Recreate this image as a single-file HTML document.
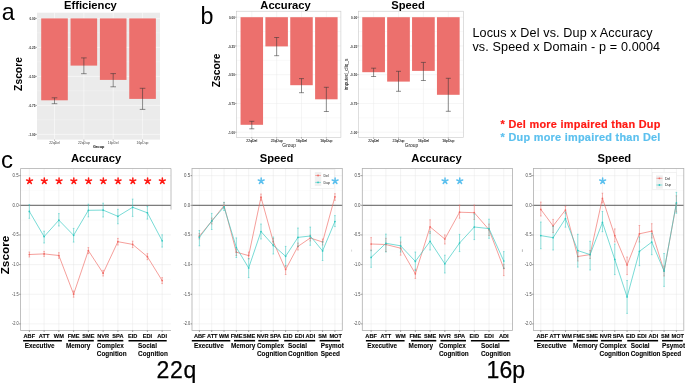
<!DOCTYPE html>
<html><head><meta charset="utf-8"><style>
html,body{margin:0;padding:0;background:#fff;width:685px;height:383px;overflow:hidden}
svg{display:block;font-family:"Liberation Sans", sans-serif;will-change:transform}
</style></head><body>
<svg width="685" height="383" viewBox="0 0 685 383" font-family='"Liberation Sans", sans-serif'>
<text x="1.7" y="19.6" font-size="23.2" font-weight="normal" text-anchor="start" fill="#000" >a</text>
<rect x="37.00" y="12.70" width="123.00" height="126.90" fill="#EBEBEB" />
<line x1="37.00" y1="18.40" x2="160.00" y2="18.40" stroke="#FFFFFF" stroke-width="0.5" />
<line x1="37.00" y1="32.90" x2="160.00" y2="32.90" stroke="#FFFFFF" stroke-width="0.25" />
<line x1="37.00" y1="47.40" x2="160.00" y2="47.40" stroke="#FFFFFF" stroke-width="0.5" />
<line x1="37.00" y1="61.90" x2="160.00" y2="61.90" stroke="#FFFFFF" stroke-width="0.25" />
<line x1="37.00" y1="76.40" x2="160.00" y2="76.40" stroke="#FFFFFF" stroke-width="0.5" />
<line x1="37.00" y1="90.90" x2="160.00" y2="90.90" stroke="#FFFFFF" stroke-width="0.25" />
<line x1="37.00" y1="105.40" x2="160.00" y2="105.40" stroke="#FFFFFF" stroke-width="0.5" />
<line x1="37.00" y1="119.90" x2="160.00" y2="119.90" stroke="#FFFFFF" stroke-width="0.25" />
<line x1="37.00" y1="134.40" x2="160.00" y2="134.40" stroke="#FFFFFF" stroke-width="0.5" />
<line x1="54.50" y1="12.70" x2="54.50" y2="139.60" stroke="#FFFFFF" stroke-width="0.5" />
<line x1="83.85" y1="12.70" x2="83.85" y2="139.60" stroke="#FFFFFF" stroke-width="0.5" />
<line x1="113.20" y1="12.70" x2="113.20" y2="139.60" stroke="#FFFFFF" stroke-width="0.5" />
<line x1="142.55" y1="12.70" x2="142.55" y2="139.60" stroke="#FFFFFF" stroke-width="0.5" />
<rect x="41.20" y="18.40" width="26.60" height="81.90" fill="#EC706D" />
<line x1="54.50" y1="97.80" x2="54.50" y2="103.70" stroke="#333" stroke-width="0.55" />
<line x1="51.70" y1="97.80" x2="57.30" y2="97.80" stroke="#333" stroke-width="0.55" />
<line x1="51.70" y1="103.70" x2="57.30" y2="103.70" stroke="#333" stroke-width="0.55" />
<rect x="70.55" y="18.40" width="26.60" height="47.20" fill="#EC706D" />
<line x1="83.85" y1="57.90" x2="83.85" y2="73.70" stroke="#333" stroke-width="0.55" />
<line x1="81.05" y1="57.90" x2="86.65" y2="57.90" stroke="#333" stroke-width="0.55" />
<line x1="81.05" y1="73.70" x2="86.65" y2="73.70" stroke="#333" stroke-width="0.55" />
<rect x="99.90" y="18.40" width="26.60" height="61.50" fill="#EC706D" />
<line x1="113.20" y1="73.60" x2="113.20" y2="86.80" stroke="#333" stroke-width="0.55" />
<line x1="110.40" y1="73.60" x2="116.00" y2="73.60" stroke="#333" stroke-width="0.55" />
<line x1="110.40" y1="86.80" x2="116.00" y2="86.80" stroke="#333" stroke-width="0.55" />
<rect x="129.25" y="18.40" width="26.60" height="80.50" fill="#EC706D" />
<line x1="142.55" y1="88.30" x2="142.55" y2="109.40" stroke="#333" stroke-width="0.55" />
<line x1="139.75" y1="88.30" x2="145.35" y2="88.30" stroke="#333" stroke-width="0.55" />
<line x1="139.75" y1="109.40" x2="145.35" y2="109.40" stroke="#333" stroke-width="0.55" />
<text x="35.4" y="20.0" font-size="4.2" font-weight="bold" text-anchor="end" fill="#333" textLength="6.0" lengthAdjust="spacingAndGlyphs">0.00</text>
<line x1="35.40" y1="18.40" x2="37.00" y2="18.40" stroke="#333" stroke-width="0.4" />
<text x="35.4" y="49.0" font-size="4.2" font-weight="bold" text-anchor="end" fill="#333" textLength="7.0" lengthAdjust="spacingAndGlyphs">-0.25</text>
<line x1="35.40" y1="47.40" x2="37.00" y2="47.40" stroke="#333" stroke-width="0.4" />
<text x="35.4" y="78.0" font-size="4.2" font-weight="bold" text-anchor="end" fill="#333" textLength="7.0" lengthAdjust="spacingAndGlyphs">-0.50</text>
<line x1="35.40" y1="76.40" x2="37.00" y2="76.40" stroke="#333" stroke-width="0.4" />
<text x="35.4" y="107.0" font-size="4.2" font-weight="bold" text-anchor="end" fill="#333" textLength="7.0" lengthAdjust="spacingAndGlyphs">-0.75</text>
<line x1="35.40" y1="105.40" x2="37.00" y2="105.40" stroke="#333" stroke-width="0.4" />
<text x="35.4" y="136.0" font-size="4.2" font-weight="bold" text-anchor="end" fill="#333" textLength="7.0" lengthAdjust="spacingAndGlyphs">-1.00</text>
<line x1="35.40" y1="134.40" x2="37.00" y2="134.40" stroke="#333" stroke-width="0.4" />
<text x="54.5" y="144.1" font-size="3.4" font-weight="normal" text-anchor="middle" fill="#444" >22qDel</text>
<line x1="54.50" y1="139.60" x2="54.50" y2="140.80" stroke="#333" stroke-width="0.4" />
<text x="83.85" y="144.1" font-size="3.4" font-weight="normal" text-anchor="middle" fill="#444" >22qDup</text>
<line x1="83.85" y1="139.60" x2="83.85" y2="140.80" stroke="#333" stroke-width="0.4" />
<text x="113.2" y="144.1" font-size="3.4" font-weight="normal" text-anchor="middle" fill="#444" >16pDel</text>
<line x1="113.20" y1="139.60" x2="113.20" y2="140.80" stroke="#333" stroke-width="0.4" />
<text x="142.55" y="144.1" font-size="3.4" font-weight="normal" text-anchor="middle" fill="#444" >16pDup</text>
<line x1="142.55" y1="139.60" x2="142.55" y2="140.80" stroke="#333" stroke-width="0.4" />
<text x="98.6" y="148.1" font-size="3.8" font-weight="bold" text-anchor="middle" fill="#000" >Group</text>
<text x="90.4" y="8.5" font-size="11.2" font-weight="bold" text-anchor="middle" fill="#000" >Efficiency</text>
<text x="0" y="0" font-size="10.3" font-weight="bold" text-anchor="middle" fill="#000" transform="translate(21.7 74) rotate(-90)">Zscore</text>
<text x="200.4" y="24.4" font-size="23.3" font-weight="normal" text-anchor="start" fill="#000" >b</text>
<rect x="236.40" y="11.20" width="104.50" height="126.20" fill="#FFFFFF" />
<line x1="236.40" y1="17.20" x2="340.90" y2="17.20" stroke="#EBEBEB" stroke-width="0.5" />
<line x1="236.40" y1="31.57" x2="340.90" y2="31.57" stroke="#EBEBEB" stroke-width="0.3" />
<line x1="236.40" y1="45.95" x2="340.90" y2="45.95" stroke="#EBEBEB" stroke-width="0.5" />
<line x1="236.40" y1="60.33" x2="340.90" y2="60.33" stroke="#EBEBEB" stroke-width="0.3" />
<line x1="236.40" y1="74.70" x2="340.90" y2="74.70" stroke="#EBEBEB" stroke-width="0.5" />
<line x1="236.40" y1="89.08" x2="340.90" y2="89.08" stroke="#EBEBEB" stroke-width="0.3" />
<line x1="236.40" y1="103.45" x2="340.90" y2="103.45" stroke="#EBEBEB" stroke-width="0.5" />
<line x1="236.40" y1="117.83" x2="340.90" y2="117.83" stroke="#EBEBEB" stroke-width="0.3" />
<line x1="236.40" y1="132.20" x2="340.90" y2="132.20" stroke="#EBEBEB" stroke-width="0.5" />
<line x1="251.80" y1="11.20" x2="251.80" y2="137.40" stroke="#EBEBEB" stroke-width="0.5" />
<line x1="276.65" y1="11.20" x2="276.65" y2="137.40" stroke="#EBEBEB" stroke-width="0.5" />
<line x1="301.50" y1="11.20" x2="301.50" y2="137.40" stroke="#EBEBEB" stroke-width="0.5" />
<line x1="326.35" y1="11.20" x2="326.35" y2="137.40" stroke="#EBEBEB" stroke-width="0.5" />
<rect x="240.55" y="17.20" width="22.50" height="107.60" fill="#EC706D" />
<line x1="251.80" y1="121.30" x2="251.80" y2="128.80" stroke="#333" stroke-width="0.55" />
<line x1="249.30" y1="121.30" x2="254.30" y2="121.30" stroke="#333" stroke-width="0.55" />
<line x1="249.30" y1="128.80" x2="254.30" y2="128.80" stroke="#333" stroke-width="0.55" />
<rect x="265.40" y="17.20" width="22.50" height="29.20" fill="#EC706D" />
<line x1="276.65" y1="37.50" x2="276.65" y2="55.70" stroke="#333" stroke-width="0.55" />
<line x1="274.15" y1="37.50" x2="279.15" y2="37.50" stroke="#333" stroke-width="0.55" />
<line x1="274.15" y1="55.70" x2="279.15" y2="55.70" stroke="#333" stroke-width="0.55" />
<rect x="290.25" y="17.20" width="22.50" height="68.00" fill="#EC706D" />
<line x1="301.50" y1="78.60" x2="301.50" y2="92.70" stroke="#333" stroke-width="0.55" />
<line x1="299.00" y1="78.60" x2="304.00" y2="78.60" stroke="#333" stroke-width="0.55" />
<line x1="299.00" y1="92.70" x2="304.00" y2="92.70" stroke="#333" stroke-width="0.55" />
<rect x="315.10" y="17.20" width="22.50" height="82.10" fill="#EC706D" />
<line x1="326.35" y1="87.30" x2="326.35" y2="111.50" stroke="#333" stroke-width="0.55" />
<line x1="323.85" y1="87.30" x2="328.85" y2="87.30" stroke="#333" stroke-width="0.55" />
<line x1="323.85" y1="111.50" x2="328.85" y2="111.50" stroke="#333" stroke-width="0.55" />
<rect x="236.40" y="11.20" width="104.50" height="126.20" fill="none" stroke="#C8C8C8" stroke-width="0.6"/>
<text x="234.9" y="18.8" font-size="4.2" font-weight="bold" text-anchor="end" fill="#333" textLength="6.0" lengthAdjust="spacingAndGlyphs">0.00</text>
<line x1="235.00" y1="17.20" x2="236.40" y2="17.20" stroke="#333" stroke-width="0.4" />
<text x="234.9" y="47.550000000000004" font-size="4.2" font-weight="bold" text-anchor="end" fill="#333" textLength="7.0" lengthAdjust="spacingAndGlyphs">-0.25</text>
<line x1="235.00" y1="45.95" x2="236.40" y2="45.95" stroke="#333" stroke-width="0.4" />
<text x="234.9" y="76.3" font-size="4.2" font-weight="bold" text-anchor="end" fill="#333" textLength="7.0" lengthAdjust="spacingAndGlyphs">-0.50</text>
<line x1="235.00" y1="74.70" x2="236.40" y2="74.70" stroke="#333" stroke-width="0.4" />
<text x="234.9" y="105.05" font-size="4.2" font-weight="bold" text-anchor="end" fill="#333" textLength="7.0" lengthAdjust="spacingAndGlyphs">-0.75</text>
<line x1="235.00" y1="103.45" x2="236.40" y2="103.45" stroke="#333" stroke-width="0.4" />
<text x="234.9" y="133.79999999999998" font-size="4.2" font-weight="bold" text-anchor="end" fill="#333" textLength="7.0" lengthAdjust="spacingAndGlyphs">-1.00</text>
<line x1="235.00" y1="132.20" x2="236.40" y2="132.20" stroke="#333" stroke-width="0.4" />
<text x="251.8" y="141.8" font-size="3.45" font-weight="normal" text-anchor="middle" fill="#111" stroke="#111" stroke-width="0.08">22qDel</text>
<line x1="251.80" y1="137.40" x2="251.80" y2="138.60" stroke="#333" stroke-width="0.4" />
<text x="276.65000000000003" y="141.8" font-size="3.45" font-weight="normal" text-anchor="middle" fill="#111" stroke="#111" stroke-width="0.08">22qDup</text>
<line x1="276.65" y1="137.40" x2="276.65" y2="138.60" stroke="#333" stroke-width="0.4" />
<text x="301.5" y="141.8" font-size="3.45" font-weight="normal" text-anchor="middle" fill="#111" stroke="#111" stroke-width="0.08">16pDel</text>
<line x1="301.50" y1="137.40" x2="301.50" y2="138.60" stroke="#333" stroke-width="0.4" />
<text x="326.35" y="141.8" font-size="3.45" font-weight="normal" text-anchor="middle" fill="#111" stroke="#111" stroke-width="0.08">16pDup</text>
<line x1="326.35" y1="137.40" x2="326.35" y2="138.60" stroke="#333" stroke-width="0.4" />
<text x="289.15" y="147.0" font-size="4.9" font-weight="normal" text-anchor="middle" fill="#111" >Group</text>
<text x="285.5" y="8.8" font-size="11.2" font-weight="bold" text-anchor="middle" fill="#000" >Accuracy</text>
<text x="0" y="0" font-size="10.3" font-weight="bold" text-anchor="middle" fill="#000" transform="translate(220 70.4) rotate(-90)">Zscore</text>
<rect x="358.60" y="11.20" width="104.70" height="126.40" fill="#FFFFFF" />
<line x1="358.60" y1="17.20" x2="463.30" y2="17.20" stroke="#EBEBEB" stroke-width="0.5" />
<line x1="358.60" y1="31.57" x2="463.30" y2="31.57" stroke="#EBEBEB" stroke-width="0.3" />
<line x1="358.60" y1="45.95" x2="463.30" y2="45.95" stroke="#EBEBEB" stroke-width="0.5" />
<line x1="358.60" y1="60.33" x2="463.30" y2="60.33" stroke="#EBEBEB" stroke-width="0.3" />
<line x1="358.60" y1="74.70" x2="463.30" y2="74.70" stroke="#EBEBEB" stroke-width="0.5" />
<line x1="358.60" y1="89.08" x2="463.30" y2="89.08" stroke="#EBEBEB" stroke-width="0.3" />
<line x1="358.60" y1="103.45" x2="463.30" y2="103.45" stroke="#EBEBEB" stroke-width="0.5" />
<line x1="358.60" y1="117.83" x2="463.30" y2="117.83" stroke="#EBEBEB" stroke-width="0.3" />
<line x1="358.60" y1="132.20" x2="463.30" y2="132.20" stroke="#EBEBEB" stroke-width="0.5" />
<line x1="373.60" y1="11.20" x2="373.60" y2="137.60" stroke="#EBEBEB" stroke-width="0.5" />
<line x1="398.50" y1="11.20" x2="398.50" y2="137.60" stroke="#EBEBEB" stroke-width="0.5" />
<line x1="423.40" y1="11.20" x2="423.40" y2="137.60" stroke="#EBEBEB" stroke-width="0.5" />
<line x1="448.30" y1="11.20" x2="448.30" y2="137.60" stroke="#EBEBEB" stroke-width="0.5" />
<rect x="362.25" y="17.20" width="22.70" height="55.00" fill="#EC706D" />
<line x1="373.60" y1="68.20" x2="373.60" y2="76.50" stroke="#333" stroke-width="0.55" />
<line x1="371.10" y1="68.20" x2="376.10" y2="68.20" stroke="#333" stroke-width="0.55" />
<line x1="371.10" y1="76.50" x2="376.10" y2="76.50" stroke="#333" stroke-width="0.55" />
<rect x="387.15" y="17.20" width="22.70" height="64.40" fill="#EC706D" />
<line x1="398.50" y1="71.30" x2="398.50" y2="91.30" stroke="#333" stroke-width="0.55" />
<line x1="396.00" y1="71.30" x2="401.00" y2="71.30" stroke="#333" stroke-width="0.55" />
<line x1="396.00" y1="91.30" x2="401.00" y2="91.30" stroke="#333" stroke-width="0.55" />
<rect x="412.05" y="17.20" width="22.70" height="53.70" fill="#EC706D" />
<line x1="423.40" y1="62.40" x2="423.40" y2="80.50" stroke="#333" stroke-width="0.55" />
<line x1="420.90" y1="62.40" x2="425.90" y2="62.40" stroke="#333" stroke-width="0.55" />
<line x1="420.90" y1="80.50" x2="425.90" y2="80.50" stroke="#333" stroke-width="0.55" />
<rect x="436.95" y="17.20" width="22.70" height="77.60" fill="#EC706D" />
<line x1="448.30" y1="78.30" x2="448.30" y2="111.30" stroke="#333" stroke-width="0.55" />
<line x1="445.80" y1="78.30" x2="450.80" y2="78.30" stroke="#333" stroke-width="0.55" />
<line x1="445.80" y1="111.30" x2="450.80" y2="111.30" stroke="#333" stroke-width="0.55" />
<rect x="358.60" y="11.20" width="104.70" height="126.40" fill="none" stroke="#C8C8C8" stroke-width="0.6"/>
<text x="357.1" y="18.8" font-size="4.2" font-weight="bold" text-anchor="end" fill="#333" textLength="6.0" lengthAdjust="spacingAndGlyphs">0.00</text>
<line x1="357.20" y1="17.20" x2="358.60" y2="17.20" stroke="#333" stroke-width="0.4" />
<text x="357.1" y="47.550000000000004" font-size="4.2" font-weight="bold" text-anchor="end" fill="#333" textLength="7.0" lengthAdjust="spacingAndGlyphs">-0.25</text>
<line x1="357.20" y1="45.95" x2="358.60" y2="45.95" stroke="#333" stroke-width="0.4" />
<text x="357.1" y="76.3" font-size="4.2" font-weight="bold" text-anchor="end" fill="#333" textLength="7.0" lengthAdjust="spacingAndGlyphs">-0.50</text>
<line x1="357.20" y1="74.70" x2="358.60" y2="74.70" stroke="#333" stroke-width="0.4" />
<text x="357.1" y="105.05" font-size="4.2" font-weight="bold" text-anchor="end" fill="#333" textLength="7.0" lengthAdjust="spacingAndGlyphs">-0.75</text>
<line x1="357.20" y1="103.45" x2="358.60" y2="103.45" stroke="#333" stroke-width="0.4" />
<text x="357.1" y="133.79999999999998" font-size="4.2" font-weight="bold" text-anchor="end" fill="#333" textLength="7.0" lengthAdjust="spacingAndGlyphs">-1.00</text>
<line x1="357.20" y1="132.20" x2="358.60" y2="132.20" stroke="#333" stroke-width="0.4" />
<text x="373.6" y="141.8" font-size="3.45" font-weight="normal" text-anchor="middle" fill="#111" stroke="#111" stroke-width="0.08">22qDel</text>
<line x1="373.60" y1="137.60" x2="373.60" y2="138.80" stroke="#333" stroke-width="0.4" />
<text x="398.5" y="141.8" font-size="3.45" font-weight="normal" text-anchor="middle" fill="#111" stroke="#111" stroke-width="0.08">22qDup</text>
<line x1="398.50" y1="137.60" x2="398.50" y2="138.80" stroke="#333" stroke-width="0.4" />
<text x="423.40000000000003" y="141.8" font-size="3.45" font-weight="normal" text-anchor="middle" fill="#111" stroke="#111" stroke-width="0.08">16pDel</text>
<line x1="423.40" y1="137.60" x2="423.40" y2="138.80" stroke="#333" stroke-width="0.4" />
<text x="448.3" y="141.8" font-size="3.45" font-weight="normal" text-anchor="middle" fill="#111" stroke="#111" stroke-width="0.08">16pDup</text>
<line x1="448.30" y1="137.60" x2="448.30" y2="138.80" stroke="#333" stroke-width="0.4" />
<text x="411.45000000000005" y="147.0" font-size="4.9" font-weight="normal" text-anchor="middle" fill="#111" >Group</text>
<text x="408.0" y="8.8" font-size="11.2" font-weight="bold" text-anchor="middle" fill="#000" >Speed</text>
<text x="0" y="0" font-size="4.75" font-weight="normal" text-anchor="middle" fill="#111" transform="translate(348.1 74.5) rotate(-90)">imputed_cliq_s</text>
<text x="472.4" y="36.9" font-size="12.6" font-weight="normal" text-anchor="start" fill="#000" letter-spacing="0.13">Locus x Del vs. Dup x Accuracy</text>
<text x="472.4" y="51.3" font-size="12.6" font-weight="normal" text-anchor="start" fill="#000" letter-spacing="0.13">vs. Speed x Domain - p = 0.0004</text>
<text x="500.6" y="127.9" font-size="10.9" font-weight="bold" text-anchor="start" fill="#FF1A14" letter-spacing="0.27" stroke="#FF1A14" stroke-width="0.2">* Del more impaired than Dup</text>
<text x="500.6" y="141.4" font-size="10.9" font-weight="bold" text-anchor="start" fill="#5CC0EE" letter-spacing="0.27" stroke="#5CC0EE" stroke-width="0.2">* Dup more impaired than Del</text>
<text x="1.0" y="167.6" font-size="24" font-weight="normal" text-anchor="start" fill="#000" >c</text>
<rect x="20.50" y="168.50" width="150.50" height="162.00" fill="#FFFFFF" />
<line x1="20.50" y1="190.48" x2="171.00" y2="190.48" stroke="#F0F0F0" stroke-width="0.3" />
<line x1="20.50" y1="220.12" x2="171.00" y2="220.12" stroke="#F0F0F0" stroke-width="0.3" />
<line x1="20.50" y1="249.78" x2="171.00" y2="249.78" stroke="#F0F0F0" stroke-width="0.3" />
<line x1="20.50" y1="279.43" x2="171.00" y2="279.43" stroke="#F0F0F0" stroke-width="0.3" />
<line x1="20.50" y1="309.07" x2="171.00" y2="309.07" stroke="#F0F0F0" stroke-width="0.3" />
<line x1="20.50" y1="175.65" x2="171.00" y2="175.65" stroke="#E4E4E4" stroke-width="0.45" />
<line x1="20.50" y1="205.30" x2="171.00" y2="205.30" stroke="#E4E4E4" stroke-width="0.45" />
<line x1="20.50" y1="234.95" x2="171.00" y2="234.95" stroke="#E4E4E4" stroke-width="0.45" />
<line x1="20.50" y1="264.60" x2="171.00" y2="264.60" stroke="#E4E4E4" stroke-width="0.45" />
<line x1="20.50" y1="294.25" x2="171.00" y2="294.25" stroke="#E4E4E4" stroke-width="0.45" />
<line x1="20.50" y1="323.90" x2="171.00" y2="323.90" stroke="#E4E4E4" stroke-width="0.45" />
<line x1="29.35" y1="168.50" x2="29.35" y2="330.50" stroke="#E4E4E4" stroke-width="0.45" />
<line x1="44.11" y1="168.50" x2="44.11" y2="330.50" stroke="#E4E4E4" stroke-width="0.45" />
<line x1="58.86" y1="168.50" x2="58.86" y2="330.50" stroke="#E4E4E4" stroke-width="0.45" />
<line x1="73.62" y1="168.50" x2="73.62" y2="330.50" stroke="#E4E4E4" stroke-width="0.45" />
<line x1="88.37" y1="168.50" x2="88.37" y2="330.50" stroke="#E4E4E4" stroke-width="0.45" />
<line x1="103.13" y1="168.50" x2="103.13" y2="330.50" stroke="#E4E4E4" stroke-width="0.45" />
<line x1="117.88" y1="168.50" x2="117.88" y2="330.50" stroke="#E4E4E4" stroke-width="0.45" />
<line x1="132.64" y1="168.50" x2="132.64" y2="330.50" stroke="#E4E4E4" stroke-width="0.45" />
<line x1="147.39" y1="168.50" x2="147.39" y2="330.50" stroke="#E4E4E4" stroke-width="0.45" />
<line x1="162.15" y1="168.50" x2="162.15" y2="330.50" stroke="#E4E4E4" stroke-width="0.45" />
<line x1="20.50" y1="205.30" x2="171.00" y2="205.30" stroke="#1E1E1E" stroke-width="0.7" />
<polyline points="29.35,254.50 44.11,253.90 58.86,255.50 73.62,294.20 88.37,250.60 103.13,273.20 117.88,241.70 132.64,244.40 147.39,256.70 162.15,280.60" fill="none" stroke="#F06A64" stroke-width="0.65"/>
<line x1="29.35" y1="252.00" x2="29.35" y2="257.00" stroke="#F06A64" stroke-width="0.5" />
<line x1="28.55" y1="252.00" x2="30.15" y2="252.00" stroke="#F06A64" stroke-width="0.5" />
<line x1="28.55" y1="257.00" x2="30.15" y2="257.00" stroke="#F06A64" stroke-width="0.5" />
<circle cx="29.35" cy="254.50" r="0.85" fill="#F06A64"/>
<line x1="44.11" y1="251.40" x2="44.11" y2="256.40" stroke="#F06A64" stroke-width="0.5" />
<line x1="43.31" y1="251.40" x2="44.91" y2="251.40" stroke="#F06A64" stroke-width="0.5" />
<line x1="43.31" y1="256.40" x2="44.91" y2="256.40" stroke="#F06A64" stroke-width="0.5" />
<circle cx="44.11" cy="253.90" r="0.85" fill="#F06A64"/>
<line x1="58.86" y1="252.70" x2="58.86" y2="258.30" stroke="#F06A64" stroke-width="0.5" />
<line x1="58.06" y1="252.70" x2="59.66" y2="252.70" stroke="#F06A64" stroke-width="0.5" />
<line x1="58.06" y1="258.30" x2="59.66" y2="258.30" stroke="#F06A64" stroke-width="0.5" />
<circle cx="58.86" cy="255.50" r="0.85" fill="#F06A64"/>
<line x1="73.62" y1="291.00" x2="73.62" y2="297.20" stroke="#F06A64" stroke-width="0.5" />
<line x1="72.82" y1="291.00" x2="74.42" y2="291.00" stroke="#F06A64" stroke-width="0.5" />
<line x1="72.82" y1="297.20" x2="74.42" y2="297.20" stroke="#F06A64" stroke-width="0.5" />
<circle cx="73.62" cy="294.20" r="0.85" fill="#F06A64"/>
<line x1="88.37" y1="247.60" x2="88.37" y2="253.60" stroke="#F06A64" stroke-width="0.5" />
<line x1="87.57" y1="247.60" x2="89.17" y2="247.60" stroke="#F06A64" stroke-width="0.5" />
<line x1="87.57" y1="253.60" x2="89.17" y2="253.60" stroke="#F06A64" stroke-width="0.5" />
<circle cx="88.37" cy="250.60" r="0.85" fill="#F06A64"/>
<line x1="103.13" y1="270.40" x2="103.13" y2="276.00" stroke="#F06A64" stroke-width="0.5" />
<line x1="102.33" y1="270.40" x2="103.93" y2="270.40" stroke="#F06A64" stroke-width="0.5" />
<line x1="102.33" y1="276.00" x2="103.93" y2="276.00" stroke="#F06A64" stroke-width="0.5" />
<circle cx="103.13" cy="273.20" r="0.85" fill="#F06A64"/>
<line x1="117.88" y1="238.40" x2="117.88" y2="245.00" stroke="#F06A64" stroke-width="0.5" />
<line x1="117.08" y1="238.40" x2="118.68" y2="238.40" stroke="#F06A64" stroke-width="0.5" />
<line x1="117.08" y1="245.00" x2="118.68" y2="245.00" stroke="#F06A64" stroke-width="0.5" />
<circle cx="117.88" cy="241.70" r="0.85" fill="#F06A64"/>
<line x1="132.64" y1="241.20" x2="132.64" y2="247.60" stroke="#F06A64" stroke-width="0.5" />
<line x1="131.84" y1="241.20" x2="133.44" y2="241.20" stroke="#F06A64" stroke-width="0.5" />
<line x1="131.84" y1="247.60" x2="133.44" y2="247.60" stroke="#F06A64" stroke-width="0.5" />
<circle cx="132.64" cy="244.40" r="0.85" fill="#F06A64"/>
<line x1="147.39" y1="253.70" x2="147.39" y2="259.70" stroke="#F06A64" stroke-width="0.5" />
<line x1="146.59" y1="253.70" x2="148.19" y2="253.70" stroke="#F06A64" stroke-width="0.5" />
<line x1="146.59" y1="259.70" x2="148.19" y2="259.70" stroke="#F06A64" stroke-width="0.5" />
<circle cx="147.39" cy="256.70" r="0.85" fill="#F06A64"/>
<line x1="162.15" y1="277.60" x2="162.15" y2="283.60" stroke="#F06A64" stroke-width="0.5" />
<line x1="161.35" y1="277.60" x2="162.95" y2="277.60" stroke="#F06A64" stroke-width="0.5" />
<line x1="161.35" y1="283.60" x2="162.95" y2="283.60" stroke="#F06A64" stroke-width="0.5" />
<circle cx="162.15" cy="280.60" r="0.85" fill="#F06A64"/>
<polyline points="29.35,211.40 44.11,236.60 58.86,220.20 73.62,235.30 88.37,210.30 103.13,210.10 117.88,216.30 132.64,207.30 147.39,212.80 162.15,240.80" fill="none" stroke="#30C8C0" stroke-width="0.65"/>
<line x1="29.35" y1="204.60" x2="29.35" y2="218.30" stroke="#30C8C0" stroke-width="0.5" />
<line x1="28.55" y1="204.60" x2="30.15" y2="204.60" stroke="#30C8C0" stroke-width="0.5" />
<line x1="28.55" y1="218.30" x2="30.15" y2="218.30" stroke="#30C8C0" stroke-width="0.5" />
<circle cx="29.35" cy="211.40" r="0.85" fill="#30C8C0"/>
<line x1="44.11" y1="231.20" x2="44.11" y2="243.00" stroke="#30C8C0" stroke-width="0.5" />
<line x1="43.31" y1="231.20" x2="44.91" y2="231.20" stroke="#30C8C0" stroke-width="0.5" />
<line x1="43.31" y1="243.00" x2="44.91" y2="243.00" stroke="#30C8C0" stroke-width="0.5" />
<circle cx="44.11" cy="236.60" r="0.85" fill="#30C8C0"/>
<line x1="58.86" y1="213.60" x2="58.86" y2="226.00" stroke="#30C8C0" stroke-width="0.5" />
<line x1="58.06" y1="213.60" x2="59.66" y2="213.60" stroke="#30C8C0" stroke-width="0.5" />
<line x1="58.06" y1="226.00" x2="59.66" y2="226.00" stroke="#30C8C0" stroke-width="0.5" />
<circle cx="58.86" cy="220.20" r="0.85" fill="#30C8C0"/>
<line x1="73.62" y1="228.40" x2="73.62" y2="242.10" stroke="#30C8C0" stroke-width="0.5" />
<line x1="72.82" y1="228.40" x2="74.42" y2="228.40" stroke="#30C8C0" stroke-width="0.5" />
<line x1="72.82" y1="242.10" x2="74.42" y2="242.10" stroke="#30C8C0" stroke-width="0.5" />
<circle cx="73.62" cy="235.30" r="0.85" fill="#30C8C0"/>
<line x1="88.37" y1="204.20" x2="88.37" y2="216.90" stroke="#30C8C0" stroke-width="0.5" />
<line x1="87.57" y1="204.20" x2="89.17" y2="204.20" stroke="#30C8C0" stroke-width="0.5" />
<line x1="87.57" y1="216.90" x2="89.17" y2="216.90" stroke="#30C8C0" stroke-width="0.5" />
<circle cx="88.37" cy="210.30" r="0.85" fill="#30C8C0"/>
<line x1="103.13" y1="203.20" x2="103.13" y2="217.00" stroke="#30C8C0" stroke-width="0.5" />
<line x1="102.33" y1="203.20" x2="103.93" y2="203.20" stroke="#30C8C0" stroke-width="0.5" />
<line x1="102.33" y1="217.00" x2="103.93" y2="217.00" stroke="#30C8C0" stroke-width="0.5" />
<circle cx="103.13" cy="210.10" r="0.85" fill="#30C8C0"/>
<line x1="117.88" y1="209.30" x2="117.88" y2="223.80" stroke="#30C8C0" stroke-width="0.5" />
<line x1="117.08" y1="209.30" x2="118.68" y2="209.30" stroke="#30C8C0" stroke-width="0.5" />
<line x1="117.08" y1="223.80" x2="118.68" y2="223.80" stroke="#30C8C0" stroke-width="0.5" />
<circle cx="117.88" cy="216.30" r="0.85" fill="#30C8C0"/>
<line x1="132.64" y1="199.10" x2="132.64" y2="216.40" stroke="#30C8C0" stroke-width="0.5" />
<line x1="131.84" y1="199.10" x2="133.44" y2="199.10" stroke="#30C8C0" stroke-width="0.5" />
<line x1="131.84" y1="216.40" x2="133.44" y2="216.40" stroke="#30C8C0" stroke-width="0.5" />
<circle cx="132.64" cy="207.30" r="0.85" fill="#30C8C0"/>
<line x1="147.39" y1="206.50" x2="147.39" y2="219.10" stroke="#30C8C0" stroke-width="0.5" />
<line x1="146.59" y1="206.50" x2="148.19" y2="206.50" stroke="#30C8C0" stroke-width="0.5" />
<line x1="146.59" y1="219.10" x2="148.19" y2="219.10" stroke="#30C8C0" stroke-width="0.5" />
<circle cx="147.39" cy="212.80" r="0.85" fill="#30C8C0"/>
<line x1="162.15" y1="234.80" x2="162.15" y2="247.10" stroke="#30C8C0" stroke-width="0.5" />
<line x1="161.35" y1="234.80" x2="162.95" y2="234.80" stroke="#30C8C0" stroke-width="0.5" />
<line x1="161.35" y1="247.10" x2="162.95" y2="247.10" stroke="#30C8C0" stroke-width="0.5" />
<circle cx="162.15" cy="240.80" r="0.85" fill="#30C8C0"/>
<path d="M171.00 209.60V168.50H20.50V330.50H171.00" fill="none" stroke="#B0B0B0" stroke-width="0.8"/>
<text x="18.7" y="177.05" font-size="4.6" font-weight="normal" text-anchor="end" fill="#4A4A4A" textLength="6.1" lengthAdjust="spacingAndGlyphs">0.5</text>
<line x1="19.00" y1="175.65" x2="20.50" y2="175.65" stroke="#444" stroke-width="0.5" />
<text x="18.7" y="206.70000000000002" font-size="4.6" font-weight="normal" text-anchor="end" fill="#4A4A4A" textLength="6.1" lengthAdjust="spacingAndGlyphs">0.0</text>
<line x1="19.00" y1="205.30" x2="20.50" y2="205.30" stroke="#444" stroke-width="0.5" />
<text x="18.7" y="236.35000000000002" font-size="4.6" font-weight="normal" text-anchor="end" fill="#4A4A4A" textLength="6.8" lengthAdjust="spacingAndGlyphs">-0.5</text>
<line x1="19.00" y1="234.95" x2="20.50" y2="234.95" stroke="#444" stroke-width="0.5" />
<text x="18.7" y="266.0" font-size="4.6" font-weight="normal" text-anchor="end" fill="#4A4A4A" textLength="6.8" lengthAdjust="spacingAndGlyphs">-1.0</text>
<line x1="19.00" y1="264.60" x2="20.50" y2="264.60" stroke="#444" stroke-width="0.5" />
<text x="18.7" y="295.65" font-size="4.6" font-weight="normal" text-anchor="end" fill="#4A4A4A" textLength="6.8" lengthAdjust="spacingAndGlyphs">-1.5</text>
<line x1="19.00" y1="294.25" x2="20.50" y2="294.25" stroke="#444" stroke-width="0.5" />
<text x="18.7" y="325.29999999999995" font-size="4.6" font-weight="normal" text-anchor="end" fill="#4A4A4A" textLength="6.8" lengthAdjust="spacingAndGlyphs">-2.0</text>
<line x1="19.00" y1="323.90" x2="20.50" y2="323.90" stroke="#444" stroke-width="0.5" />
<line x1="29.35" y1="330.50" x2="29.35" y2="332.00" stroke="#444" stroke-width="0.5" />
<line x1="44.11" y1="330.50" x2="44.11" y2="332.00" stroke="#444" stroke-width="0.5" />
<line x1="58.86" y1="330.50" x2="58.86" y2="332.00" stroke="#444" stroke-width="0.5" />
<line x1="73.62" y1="330.50" x2="73.62" y2="332.00" stroke="#444" stroke-width="0.5" />
<line x1="88.37" y1="330.50" x2="88.37" y2="332.00" stroke="#444" stroke-width="0.5" />
<line x1="103.13" y1="330.50" x2="103.13" y2="332.00" stroke="#444" stroke-width="0.5" />
<line x1="117.88" y1="330.50" x2="117.88" y2="332.00" stroke="#444" stroke-width="0.5" />
<line x1="132.64" y1="330.50" x2="132.64" y2="332.00" stroke="#444" stroke-width="0.5" />
<line x1="147.39" y1="330.50" x2="147.39" y2="332.00" stroke="#444" stroke-width="0.5" />
<line x1="162.15" y1="330.50" x2="162.15" y2="332.00" stroke="#444" stroke-width="0.5" />
<path d="M29.55 181.00L29.55 177.90M29.55 181.00L32.50 180.04M29.55 181.00L31.38 183.51M29.55 181.00L27.73 183.51M29.55 181.00L26.60 180.04" stroke="#FF1A14" stroke-width="1.5" stroke-linecap="round" fill="none"/>
<path d="M44.31 181.00L44.31 177.90M44.31 181.00L47.26 180.04M44.31 181.00L46.13 183.51M44.31 181.00L42.49 183.51M44.31 181.00L41.36 180.04" stroke="#FF1A14" stroke-width="1.5" stroke-linecap="round" fill="none"/>
<path d="M59.06 181.00L59.06 177.90M59.06 181.00L62.01 180.04M59.06 181.00L60.88 183.51M59.06 181.00L57.24 183.51M59.06 181.00L56.11 180.04" stroke="#FF1A14" stroke-width="1.5" stroke-linecap="round" fill="none"/>
<path d="M73.82 181.00L73.82 177.90M73.82 181.00L76.77 180.04M73.82 181.00L75.64 183.51M73.82 181.00L72.00 183.51M73.82 181.00L70.87 180.04" stroke="#FF1A14" stroke-width="1.5" stroke-linecap="round" fill="none"/>
<path d="M88.57 181.00L88.57 177.90M88.57 181.00L91.52 180.04M88.57 181.00L90.39 183.51M88.57 181.00L86.75 183.51M88.57 181.00L85.62 180.04" stroke="#FF1A14" stroke-width="1.5" stroke-linecap="round" fill="none"/>
<path d="M103.33 181.00L103.33 177.90M103.33 181.00L106.28 180.04M103.33 181.00L105.15 183.51M103.33 181.00L101.51 183.51M103.33 181.00L100.38 180.04" stroke="#FF1A14" stroke-width="1.5" stroke-linecap="round" fill="none"/>
<path d="M118.08 181.00L118.08 177.90M118.08 181.00L121.03 180.04M118.08 181.00L119.90 183.51M118.08 181.00L116.26 183.51M118.08 181.00L115.13 180.04" stroke="#FF1A14" stroke-width="1.5" stroke-linecap="round" fill="none"/>
<path d="M132.84 181.00L132.84 177.90M132.84 181.00L135.79 180.04M132.84 181.00L134.66 183.51M132.84 181.00L131.02 183.51M132.84 181.00L129.89 180.04" stroke="#FF1A14" stroke-width="1.5" stroke-linecap="round" fill="none"/>
<path d="M147.59 181.00L147.59 177.90M147.59 181.00L150.54 180.04M147.59 181.00L149.41 183.51M147.59 181.00L145.77 183.51M147.59 181.00L144.64 180.04" stroke="#FF1A14" stroke-width="1.5" stroke-linecap="round" fill="none"/>
<path d="M162.35 181.00L162.35 177.90M162.35 181.00L165.30 180.04M162.35 181.00L164.17 183.51M162.35 181.00L160.52 183.51M162.35 181.00L159.40 180.04" stroke="#FF1A14" stroke-width="1.5" stroke-linecap="round" fill="none"/>
<text x="96.1" y="162.0" font-size="11.2" font-weight="bold" text-anchor="middle" fill="#000" >Accuracy</text>
<rect x="192.00" y="168.50" width="150.30" height="162.00" fill="#FFFFFF" />
<line x1="192.00" y1="190.48" x2="342.30" y2="190.48" stroke="#F0F0F0" stroke-width="0.3" />
<line x1="192.00" y1="220.12" x2="342.30" y2="220.12" stroke="#F0F0F0" stroke-width="0.3" />
<line x1="192.00" y1="249.78" x2="342.30" y2="249.78" stroke="#F0F0F0" stroke-width="0.3" />
<line x1="192.00" y1="279.43" x2="342.30" y2="279.43" stroke="#F0F0F0" stroke-width="0.3" />
<line x1="192.00" y1="309.07" x2="342.30" y2="309.07" stroke="#F0F0F0" stroke-width="0.3" />
<line x1="192.00" y1="175.65" x2="342.30" y2="175.65" stroke="#E4E4E4" stroke-width="0.45" />
<line x1="192.00" y1="205.30" x2="342.30" y2="205.30" stroke="#E4E4E4" stroke-width="0.45" />
<line x1="192.00" y1="234.95" x2="342.30" y2="234.95" stroke="#E4E4E4" stroke-width="0.45" />
<line x1="192.00" y1="264.60" x2="342.30" y2="264.60" stroke="#E4E4E4" stroke-width="0.45" />
<line x1="192.00" y1="294.25" x2="342.30" y2="294.25" stroke="#E4E4E4" stroke-width="0.45" />
<line x1="192.00" y1="323.90" x2="342.30" y2="323.90" stroke="#E4E4E4" stroke-width="0.45" />
<line x1="199.39" y1="168.50" x2="199.39" y2="330.50" stroke="#E4E4E4" stroke-width="0.45" />
<line x1="211.71" y1="168.50" x2="211.71" y2="330.50" stroke="#E4E4E4" stroke-width="0.45" />
<line x1="224.03" y1="168.50" x2="224.03" y2="330.50" stroke="#E4E4E4" stroke-width="0.45" />
<line x1="236.35" y1="168.50" x2="236.35" y2="330.50" stroke="#E4E4E4" stroke-width="0.45" />
<line x1="248.67" y1="168.50" x2="248.67" y2="330.50" stroke="#E4E4E4" stroke-width="0.45" />
<line x1="260.99" y1="168.50" x2="260.99" y2="330.50" stroke="#E4E4E4" stroke-width="0.45" />
<line x1="273.31" y1="168.50" x2="273.31" y2="330.50" stroke="#E4E4E4" stroke-width="0.45" />
<line x1="285.63" y1="168.50" x2="285.63" y2="330.50" stroke="#E4E4E4" stroke-width="0.45" />
<line x1="297.95" y1="168.50" x2="297.95" y2="330.50" stroke="#E4E4E4" stroke-width="0.45" />
<line x1="310.27" y1="168.50" x2="310.27" y2="330.50" stroke="#E4E4E4" stroke-width="0.45" />
<line x1="322.59" y1="168.50" x2="322.59" y2="330.50" stroke="#E4E4E4" stroke-width="0.45" />
<line x1="334.91" y1="168.50" x2="334.91" y2="330.50" stroke="#E4E4E4" stroke-width="0.45" />
<rect x="310.80" y="169.40" width="23.40" height="19.10" fill="#FFFFFF" stroke="#E6E6E6" stroke-width="0.5"/>
<rect x="314.80" y="172.10" width="6.50" height="13.90" fill="#F0F0F0" />
<line x1="315.20" y1="175.50" x2="320.90" y2="175.50" stroke="#F06A64" stroke-width="0.55" />
<circle cx="318.05" cy="175.50" r="0.9" fill="#F06A64"/>
<text x="323.6" y="176.75" font-size="3.5" font-weight="normal" text-anchor="start" fill="#1A1A1A" >Del</text>
<line x1="315.20" y1="182.40" x2="320.90" y2="182.40" stroke="#30C8C0" stroke-width="0.55" />
<circle cx="318.05" cy="182.40" r="0.9" fill="#30C8C0"/>
<text x="323.6" y="183.65" font-size="3.5" font-weight="normal" text-anchor="start" fill="#1A1A1A" >Dup</text>
<line x1="192.00" y1="205.30" x2="342.30" y2="205.30" stroke="#1E1E1E" stroke-width="0.7" />
<polyline points="199.39,236.20 211.71,221.10 224.03,205.50 236.35,252.20 248.67,255.60 260.99,197.20 273.31,241.70 285.63,269.50 297.95,246.40 310.27,238.00 322.59,242.00 334.91,196.80" fill="none" stroke="#F06A64" stroke-width="0.65"/>
<line x1="199.39" y1="233.50" x2="199.39" y2="239.00" stroke="#F06A64" stroke-width="0.5" />
<line x1="198.59" y1="233.50" x2="200.19" y2="233.50" stroke="#F06A64" stroke-width="0.5" />
<line x1="198.59" y1="239.00" x2="200.19" y2="239.00" stroke="#F06A64" stroke-width="0.5" />
<circle cx="199.39" cy="236.20" r="0.85" fill="#F06A64"/>
<line x1="211.71" y1="218.00" x2="211.71" y2="224.00" stroke="#F06A64" stroke-width="0.5" />
<line x1="210.91" y1="218.00" x2="212.51" y2="218.00" stroke="#F06A64" stroke-width="0.5" />
<line x1="210.91" y1="224.00" x2="212.51" y2="224.00" stroke="#F06A64" stroke-width="0.5" />
<circle cx="211.71" cy="221.10" r="0.85" fill="#F06A64"/>
<line x1="224.03" y1="202.50" x2="224.03" y2="208.50" stroke="#F06A64" stroke-width="0.5" />
<line x1="223.23" y1="202.50" x2="224.83" y2="202.50" stroke="#F06A64" stroke-width="0.5" />
<line x1="223.23" y1="208.50" x2="224.83" y2="208.50" stroke="#F06A64" stroke-width="0.5" />
<circle cx="224.03" cy="205.50" r="0.85" fill="#F06A64"/>
<line x1="236.35" y1="249.00" x2="236.35" y2="255.50" stroke="#F06A64" stroke-width="0.5" />
<line x1="235.55" y1="249.00" x2="237.15" y2="249.00" stroke="#F06A64" stroke-width="0.5" />
<line x1="235.55" y1="255.50" x2="237.15" y2="255.50" stroke="#F06A64" stroke-width="0.5" />
<circle cx="236.35" cy="252.20" r="0.85" fill="#F06A64"/>
<line x1="248.67" y1="252.00" x2="248.67" y2="259.00" stroke="#F06A64" stroke-width="0.5" />
<line x1="247.87" y1="252.00" x2="249.47" y2="252.00" stroke="#F06A64" stroke-width="0.5" />
<line x1="247.87" y1="259.00" x2="249.47" y2="259.00" stroke="#F06A64" stroke-width="0.5" />
<circle cx="248.67" cy="255.60" r="0.85" fill="#F06A64"/>
<line x1="260.99" y1="194.00" x2="260.99" y2="200.30" stroke="#F06A64" stroke-width="0.5" />
<line x1="260.19" y1="194.00" x2="261.79" y2="194.00" stroke="#F06A64" stroke-width="0.5" />
<line x1="260.19" y1="200.30" x2="261.79" y2="200.30" stroke="#F06A64" stroke-width="0.5" />
<circle cx="260.99" cy="197.20" r="0.85" fill="#F06A64"/>
<line x1="273.31" y1="238.50" x2="273.31" y2="245.00" stroke="#F06A64" stroke-width="0.5" />
<line x1="272.51" y1="238.50" x2="274.11" y2="238.50" stroke="#F06A64" stroke-width="0.5" />
<line x1="272.51" y1="245.00" x2="274.11" y2="245.00" stroke="#F06A64" stroke-width="0.5" />
<circle cx="273.31" cy="241.70" r="0.85" fill="#F06A64"/>
<line x1="285.63" y1="265.50" x2="285.63" y2="274.50" stroke="#F06A64" stroke-width="0.5" />
<line x1="284.83" y1="265.50" x2="286.43" y2="265.50" stroke="#F06A64" stroke-width="0.5" />
<line x1="284.83" y1="274.50" x2="286.43" y2="274.50" stroke="#F06A64" stroke-width="0.5" />
<circle cx="285.63" cy="269.50" r="0.85" fill="#F06A64"/>
<line x1="297.95" y1="243.00" x2="297.95" y2="250.00" stroke="#F06A64" stroke-width="0.5" />
<line x1="297.15" y1="243.00" x2="298.75" y2="243.00" stroke="#F06A64" stroke-width="0.5" />
<line x1="297.15" y1="250.00" x2="298.75" y2="250.00" stroke="#F06A64" stroke-width="0.5" />
<circle cx="297.95" cy="246.40" r="0.85" fill="#F06A64"/>
<line x1="310.27" y1="235.00" x2="310.27" y2="241.00" stroke="#F06A64" stroke-width="0.5" />
<line x1="309.47" y1="235.00" x2="311.07" y2="235.00" stroke="#F06A64" stroke-width="0.5" />
<line x1="309.47" y1="241.00" x2="311.07" y2="241.00" stroke="#F06A64" stroke-width="0.5" />
<circle cx="310.27" cy="238.00" r="0.85" fill="#F06A64"/>
<line x1="322.59" y1="239.00" x2="322.59" y2="245.00" stroke="#F06A64" stroke-width="0.5" />
<line x1="321.79" y1="239.00" x2="323.39" y2="239.00" stroke="#F06A64" stroke-width="0.5" />
<line x1="321.79" y1="245.00" x2="323.39" y2="245.00" stroke="#F06A64" stroke-width="0.5" />
<circle cx="322.59" cy="242.00" r="0.85" fill="#F06A64"/>
<line x1="334.91" y1="193.70" x2="334.91" y2="200.30" stroke="#F06A64" stroke-width="0.5" />
<line x1="334.11" y1="193.70" x2="335.71" y2="193.70" stroke="#F06A64" stroke-width="0.5" />
<line x1="334.11" y1="200.30" x2="335.71" y2="200.30" stroke="#F06A64" stroke-width="0.5" />
<circle cx="334.91" cy="196.80" r="0.85" fill="#F06A64"/>
<polyline points="199.39,237.40 211.71,221.10 224.03,206.90 236.35,247.50 248.67,268.00 260.99,231.50 273.31,245.40 285.63,256.30 297.95,237.40 310.27,236.00 322.59,250.90 334.91,221.50" fill="none" stroke="#30C8C0" stroke-width="0.65"/>
<line x1="199.39" y1="230.50" x2="199.39" y2="245.80" stroke="#30C8C0" stroke-width="0.5" />
<line x1="198.59" y1="230.50" x2="200.19" y2="230.50" stroke="#30C8C0" stroke-width="0.5" />
<line x1="198.59" y1="245.80" x2="200.19" y2="245.80" stroke="#30C8C0" stroke-width="0.5" />
<circle cx="199.39" cy="237.40" r="0.85" fill="#30C8C0"/>
<line x1="211.71" y1="213.40" x2="211.71" y2="229.50" stroke="#30C8C0" stroke-width="0.5" />
<line x1="210.91" y1="213.40" x2="212.51" y2="213.40" stroke="#30C8C0" stroke-width="0.5" />
<line x1="210.91" y1="229.50" x2="212.51" y2="229.50" stroke="#30C8C0" stroke-width="0.5" />
<circle cx="211.71" cy="221.10" r="0.85" fill="#30C8C0"/>
<line x1="224.03" y1="202.30" x2="224.03" y2="210.50" stroke="#30C8C0" stroke-width="0.5" />
<line x1="223.23" y1="202.30" x2="224.83" y2="202.30" stroke="#30C8C0" stroke-width="0.5" />
<line x1="223.23" y1="210.50" x2="224.83" y2="210.50" stroke="#30C8C0" stroke-width="0.5" />
<circle cx="224.03" cy="206.90" r="0.85" fill="#30C8C0"/>
<line x1="236.35" y1="237.90" x2="236.35" y2="257.50" stroke="#30C8C0" stroke-width="0.5" />
<line x1="235.55" y1="237.90" x2="237.15" y2="237.90" stroke="#30C8C0" stroke-width="0.5" />
<line x1="235.55" y1="257.50" x2="237.15" y2="257.50" stroke="#30C8C0" stroke-width="0.5" />
<circle cx="236.35" cy="247.50" r="0.85" fill="#30C8C0"/>
<line x1="248.67" y1="258.50" x2="248.67" y2="277.60" stroke="#30C8C0" stroke-width="0.5" />
<line x1="247.87" y1="258.50" x2="249.47" y2="258.50" stroke="#30C8C0" stroke-width="0.5" />
<line x1="247.87" y1="277.60" x2="249.47" y2="277.60" stroke="#30C8C0" stroke-width="0.5" />
<circle cx="248.67" cy="268.00" r="0.85" fill="#30C8C0"/>
<line x1="260.99" y1="224.00" x2="260.99" y2="239.00" stroke="#30C8C0" stroke-width="0.5" />
<line x1="260.19" y1="224.00" x2="261.79" y2="224.00" stroke="#30C8C0" stroke-width="0.5" />
<line x1="260.19" y1="239.00" x2="261.79" y2="239.00" stroke="#30C8C0" stroke-width="0.5" />
<circle cx="260.99" cy="231.50" r="0.85" fill="#30C8C0"/>
<line x1="273.31" y1="237.00" x2="273.31" y2="254.00" stroke="#30C8C0" stroke-width="0.5" />
<line x1="272.51" y1="237.00" x2="274.11" y2="237.00" stroke="#30C8C0" stroke-width="0.5" />
<line x1="272.51" y1="254.00" x2="274.11" y2="254.00" stroke="#30C8C0" stroke-width="0.5" />
<circle cx="273.31" cy="245.40" r="0.85" fill="#30C8C0"/>
<line x1="285.63" y1="246.40" x2="285.63" y2="266.20" stroke="#30C8C0" stroke-width="0.5" />
<line x1="284.83" y1="246.40" x2="286.43" y2="246.40" stroke="#30C8C0" stroke-width="0.5" />
<line x1="284.83" y1="266.20" x2="286.43" y2="266.20" stroke="#30C8C0" stroke-width="0.5" />
<circle cx="285.63" cy="256.30" r="0.85" fill="#30C8C0"/>
<line x1="297.95" y1="228.00" x2="297.95" y2="246.40" stroke="#30C8C0" stroke-width="0.5" />
<line x1="297.15" y1="228.00" x2="298.75" y2="228.00" stroke="#30C8C0" stroke-width="0.5" />
<line x1="297.15" y1="246.40" x2="298.75" y2="246.40" stroke="#30C8C0" stroke-width="0.5" />
<circle cx="297.95" cy="237.40" r="0.85" fill="#30C8C0"/>
<line x1="310.27" y1="227.10" x2="310.27" y2="245.30" stroke="#30C8C0" stroke-width="0.5" />
<line x1="309.47" y1="227.10" x2="311.07" y2="227.10" stroke="#30C8C0" stroke-width="0.5" />
<line x1="309.47" y1="245.30" x2="311.07" y2="245.30" stroke="#30C8C0" stroke-width="0.5" />
<circle cx="310.27" cy="236.00" r="0.85" fill="#30C8C0"/>
<line x1="322.59" y1="241.50" x2="322.59" y2="260.50" stroke="#30C8C0" stroke-width="0.5" />
<line x1="321.79" y1="241.50" x2="323.39" y2="241.50" stroke="#30C8C0" stroke-width="0.5" />
<line x1="321.79" y1="260.50" x2="323.39" y2="260.50" stroke="#30C8C0" stroke-width="0.5" />
<circle cx="322.59" cy="250.90" r="0.85" fill="#30C8C0"/>
<line x1="334.91" y1="215.60" x2="334.91" y2="226.60" stroke="#30C8C0" stroke-width="0.5" />
<line x1="334.11" y1="215.60" x2="335.71" y2="215.60" stroke="#30C8C0" stroke-width="0.5" />
<line x1="334.11" y1="226.60" x2="335.71" y2="226.60" stroke="#30C8C0" stroke-width="0.5" />
<circle cx="334.91" cy="221.50" r="0.85" fill="#30C8C0"/>
<rect x="192.00" y="168.50" width="150.30" height="162.00" fill="none" stroke="#B0B0B0" stroke-width="0.8"/>
<text x="190.2" y="177.05" font-size="4.6" font-weight="normal" text-anchor="end" fill="#4A4A4A" textLength="6.1" lengthAdjust="spacingAndGlyphs">0.5</text>
<line x1="190.50" y1="175.65" x2="192.00" y2="175.65" stroke="#444" stroke-width="0.5" />
<text x="190.2" y="206.70000000000002" font-size="4.6" font-weight="normal" text-anchor="end" fill="#4A4A4A" textLength="6.1" lengthAdjust="spacingAndGlyphs">0.0</text>
<line x1="190.50" y1="205.30" x2="192.00" y2="205.30" stroke="#444" stroke-width="0.5" />
<text x="190.2" y="236.35000000000002" font-size="4.6" font-weight="normal" text-anchor="end" fill="#4A4A4A" textLength="6.8" lengthAdjust="spacingAndGlyphs">-0.5</text>
<line x1="190.50" y1="234.95" x2="192.00" y2="234.95" stroke="#444" stroke-width="0.5" />
<text x="190.2" y="266.0" font-size="4.6" font-weight="normal" text-anchor="end" fill="#4A4A4A" textLength="6.8" lengthAdjust="spacingAndGlyphs">-1.0</text>
<line x1="190.50" y1="264.60" x2="192.00" y2="264.60" stroke="#444" stroke-width="0.5" />
<text x="190.2" y="295.65" font-size="4.6" font-weight="normal" text-anchor="end" fill="#4A4A4A" textLength="6.8" lengthAdjust="spacingAndGlyphs">-1.5</text>
<line x1="190.50" y1="294.25" x2="192.00" y2="294.25" stroke="#444" stroke-width="0.5" />
<text x="190.2" y="325.29999999999995" font-size="4.6" font-weight="normal" text-anchor="end" fill="#4A4A4A" textLength="6.8" lengthAdjust="spacingAndGlyphs">-2.0</text>
<line x1="190.50" y1="323.90" x2="192.00" y2="323.90" stroke="#444" stroke-width="0.5" />
<line x1="199.39" y1="330.50" x2="199.39" y2="332.00" stroke="#444" stroke-width="0.5" />
<line x1="211.71" y1="330.50" x2="211.71" y2="332.00" stroke="#444" stroke-width="0.5" />
<line x1="224.03" y1="330.50" x2="224.03" y2="332.00" stroke="#444" stroke-width="0.5" />
<line x1="236.35" y1="330.50" x2="236.35" y2="332.00" stroke="#444" stroke-width="0.5" />
<line x1="248.67" y1="330.50" x2="248.67" y2="332.00" stroke="#444" stroke-width="0.5" />
<line x1="260.99" y1="330.50" x2="260.99" y2="332.00" stroke="#444" stroke-width="0.5" />
<line x1="273.31" y1="330.50" x2="273.31" y2="332.00" stroke="#444" stroke-width="0.5" />
<line x1="285.63" y1="330.50" x2="285.63" y2="332.00" stroke="#444" stroke-width="0.5" />
<line x1="297.95" y1="330.50" x2="297.95" y2="332.00" stroke="#444" stroke-width="0.5" />
<line x1="310.27" y1="330.50" x2="310.27" y2="332.00" stroke="#444" stroke-width="0.5" />
<line x1="322.59" y1="330.50" x2="322.59" y2="332.00" stroke="#444" stroke-width="0.5" />
<line x1="334.91" y1="330.50" x2="334.91" y2="332.00" stroke="#444" stroke-width="0.5" />
<path d="M261.19 181.00L261.19 177.90M261.19 181.00L264.14 180.04M261.19 181.00L263.01 183.51M261.19 181.00L259.37 183.51M261.19 181.00L258.24 180.04" stroke="#5CC0EE" stroke-width="1.5" stroke-linecap="round" fill="none"/>
<path d="M335.11 181.00L335.11 177.90M335.11 181.00L338.06 180.04M335.11 181.00L336.93 183.51M335.11 181.00L333.29 183.51M335.11 181.00L332.16 180.04" stroke="#5CC0EE" stroke-width="1.5" stroke-linecap="round" fill="none"/>
<text x="276.6" y="162.0" font-size="11.2" font-weight="bold" text-anchor="middle" fill="#000" >Speed</text>
<rect x="362.30" y="168.50" width="150.30" height="162.00" fill="#FFFFFF" />
<line x1="362.30" y1="190.48" x2="512.60" y2="190.48" stroke="#F0F0F0" stroke-width="0.3" />
<line x1="362.30" y1="220.12" x2="512.60" y2="220.12" stroke="#F0F0F0" stroke-width="0.3" />
<line x1="362.30" y1="249.78" x2="512.60" y2="249.78" stroke="#F0F0F0" stroke-width="0.3" />
<line x1="362.30" y1="279.43" x2="512.60" y2="279.43" stroke="#F0F0F0" stroke-width="0.3" />
<line x1="362.30" y1="309.07" x2="512.60" y2="309.07" stroke="#F0F0F0" stroke-width="0.3" />
<line x1="362.30" y1="175.65" x2="512.60" y2="175.65" stroke="#E4E4E4" stroke-width="0.45" />
<line x1="362.30" y1="205.30" x2="512.60" y2="205.30" stroke="#E4E4E4" stroke-width="0.45" />
<line x1="362.30" y1="234.95" x2="512.60" y2="234.95" stroke="#E4E4E4" stroke-width="0.45" />
<line x1="362.30" y1="264.60" x2="512.60" y2="264.60" stroke="#E4E4E4" stroke-width="0.45" />
<line x1="362.30" y1="294.25" x2="512.60" y2="294.25" stroke="#E4E4E4" stroke-width="0.45" />
<line x1="362.30" y1="323.90" x2="512.60" y2="323.90" stroke="#E4E4E4" stroke-width="0.45" />
<line x1="371.14" y1="168.50" x2="371.14" y2="330.50" stroke="#E4E4E4" stroke-width="0.45" />
<line x1="385.88" y1="168.50" x2="385.88" y2="330.50" stroke="#E4E4E4" stroke-width="0.45" />
<line x1="400.61" y1="168.50" x2="400.61" y2="330.50" stroke="#E4E4E4" stroke-width="0.45" />
<line x1="415.35" y1="168.50" x2="415.35" y2="330.50" stroke="#E4E4E4" stroke-width="0.45" />
<line x1="430.08" y1="168.50" x2="430.08" y2="330.50" stroke="#E4E4E4" stroke-width="0.45" />
<line x1="444.82" y1="168.50" x2="444.82" y2="330.50" stroke="#E4E4E4" stroke-width="0.45" />
<line x1="459.55" y1="168.50" x2="459.55" y2="330.50" stroke="#E4E4E4" stroke-width="0.45" />
<line x1="474.29" y1="168.50" x2="474.29" y2="330.50" stroke="#E4E4E4" stroke-width="0.45" />
<line x1="489.02" y1="168.50" x2="489.02" y2="330.50" stroke="#E4E4E4" stroke-width="0.45" />
<line x1="503.76" y1="168.50" x2="503.76" y2="330.50" stroke="#E4E4E4" stroke-width="0.45" />
<line x1="362.30" y1="205.30" x2="512.60" y2="205.30" stroke="#1E1E1E" stroke-width="0.7" />
<polyline points="371.14,244.00 385.88,244.50 400.61,248.20 415.35,273.80 430.08,226.90 444.82,239.00 459.55,212.20 474.29,212.70 489.02,229.70 503.76,268.30" fill="none" stroke="#F06A64" stroke-width="0.65"/>
<line x1="371.14" y1="237.60" x2="371.14" y2="250.70" stroke="#F06A64" stroke-width="0.5" />
<line x1="370.34" y1="237.60" x2="371.94" y2="237.60" stroke="#F06A64" stroke-width="0.5" />
<line x1="370.34" y1="250.70" x2="371.94" y2="250.70" stroke="#F06A64" stroke-width="0.5" />
<circle cx="371.14" cy="244.00" r="0.85" fill="#F06A64"/>
<line x1="385.88" y1="238.30" x2="385.88" y2="251.50" stroke="#F06A64" stroke-width="0.5" />
<line x1="385.08" y1="238.30" x2="386.68" y2="238.30" stroke="#F06A64" stroke-width="0.5" />
<line x1="385.08" y1="251.50" x2="386.68" y2="251.50" stroke="#F06A64" stroke-width="0.5" />
<circle cx="385.88" cy="244.50" r="0.85" fill="#F06A64"/>
<line x1="400.61" y1="242.00" x2="400.61" y2="255.20" stroke="#F06A64" stroke-width="0.5" />
<line x1="399.81" y1="242.00" x2="401.41" y2="242.00" stroke="#F06A64" stroke-width="0.5" />
<line x1="399.81" y1="255.20" x2="401.41" y2="255.20" stroke="#F06A64" stroke-width="0.5" />
<circle cx="400.61" cy="248.20" r="0.85" fill="#F06A64"/>
<line x1="415.35" y1="269.30" x2="415.35" y2="278.40" stroke="#F06A64" stroke-width="0.5" />
<line x1="414.55" y1="269.30" x2="416.15" y2="269.30" stroke="#F06A64" stroke-width="0.5" />
<line x1="414.55" y1="278.40" x2="416.15" y2="278.40" stroke="#F06A64" stroke-width="0.5" />
<circle cx="415.35" cy="273.80" r="0.85" fill="#F06A64"/>
<line x1="430.08" y1="219.80" x2="430.08" y2="233.40" stroke="#F06A64" stroke-width="0.5" />
<line x1="429.28" y1="219.80" x2="430.88" y2="219.80" stroke="#F06A64" stroke-width="0.5" />
<line x1="429.28" y1="233.40" x2="430.88" y2="233.40" stroke="#F06A64" stroke-width="0.5" />
<circle cx="430.08" cy="226.90" r="0.85" fill="#F06A64"/>
<line x1="444.82" y1="234.90" x2="444.82" y2="244.00" stroke="#F06A64" stroke-width="0.5" />
<line x1="444.02" y1="234.90" x2="445.62" y2="234.90" stroke="#F06A64" stroke-width="0.5" />
<line x1="444.02" y1="244.00" x2="445.62" y2="244.00" stroke="#F06A64" stroke-width="0.5" />
<circle cx="444.82" cy="239.00" r="0.85" fill="#F06A64"/>
<line x1="459.55" y1="205.10" x2="459.55" y2="218.20" stroke="#F06A64" stroke-width="0.5" />
<line x1="458.75" y1="205.10" x2="460.35" y2="205.10" stroke="#F06A64" stroke-width="0.5" />
<line x1="458.75" y1="218.20" x2="460.35" y2="218.20" stroke="#F06A64" stroke-width="0.5" />
<circle cx="459.55" cy="212.20" r="0.85" fill="#F06A64"/>
<line x1="474.29" y1="205.00" x2="474.29" y2="219.50" stroke="#F06A64" stroke-width="0.5" />
<line x1="473.49" y1="205.00" x2="475.09" y2="205.00" stroke="#F06A64" stroke-width="0.5" />
<line x1="473.49" y1="219.50" x2="475.09" y2="219.50" stroke="#F06A64" stroke-width="0.5" />
<circle cx="474.29" cy="212.70" r="0.85" fill="#F06A64"/>
<line x1="489.02" y1="224.00" x2="489.02" y2="235.50" stroke="#F06A64" stroke-width="0.5" />
<line x1="488.22" y1="224.00" x2="489.82" y2="224.00" stroke="#F06A64" stroke-width="0.5" />
<line x1="488.22" y1="235.50" x2="489.82" y2="235.50" stroke="#F06A64" stroke-width="0.5" />
<circle cx="489.02" cy="229.70" r="0.85" fill="#F06A64"/>
<line x1="503.76" y1="264.40" x2="503.76" y2="275.60" stroke="#F06A64" stroke-width="0.5" />
<line x1="502.96" y1="264.40" x2="504.56" y2="264.40" stroke="#F06A64" stroke-width="0.5" />
<line x1="502.96" y1="275.60" x2="504.56" y2="275.60" stroke="#F06A64" stroke-width="0.5" />
<circle cx="503.76" cy="268.30" r="0.85" fill="#F06A64"/>
<polyline points="371.14,257.40 385.88,243.30 400.61,245.80 415.35,261.40 430.08,241.30 444.82,263.80 459.55,243.00 474.29,227.00 489.02,228.60 503.76,261.00" fill="none" stroke="#30C8C0" stroke-width="0.65"/>
<line x1="371.14" y1="250.00" x2="371.14" y2="267.30" stroke="#30C8C0" stroke-width="0.5" />
<line x1="370.34" y1="250.00" x2="371.94" y2="250.00" stroke="#30C8C0" stroke-width="0.5" />
<line x1="370.34" y1="267.30" x2="371.94" y2="267.30" stroke="#30C8C0" stroke-width="0.5" />
<circle cx="371.14" cy="257.40" r="0.85" fill="#30C8C0"/>
<line x1="385.88" y1="234.10" x2="385.88" y2="252.00" stroke="#30C8C0" stroke-width="0.5" />
<line x1="385.08" y1="234.10" x2="386.68" y2="234.10" stroke="#30C8C0" stroke-width="0.5" />
<line x1="385.08" y1="252.00" x2="386.68" y2="252.00" stroke="#30C8C0" stroke-width="0.5" />
<circle cx="385.88" cy="243.30" r="0.85" fill="#30C8C0"/>
<line x1="400.61" y1="237.00" x2="400.61" y2="252.00" stroke="#30C8C0" stroke-width="0.5" />
<line x1="399.81" y1="237.00" x2="401.41" y2="237.00" stroke="#30C8C0" stroke-width="0.5" />
<line x1="399.81" y1="252.00" x2="401.41" y2="252.00" stroke="#30C8C0" stroke-width="0.5" />
<circle cx="400.61" cy="245.80" r="0.85" fill="#30C8C0"/>
<line x1="415.35" y1="252.00" x2="415.35" y2="270.50" stroke="#30C8C0" stroke-width="0.5" />
<line x1="414.55" y1="252.00" x2="416.15" y2="252.00" stroke="#30C8C0" stroke-width="0.5" />
<line x1="414.55" y1="270.50" x2="416.15" y2="270.50" stroke="#30C8C0" stroke-width="0.5" />
<circle cx="415.35" cy="261.40" r="0.85" fill="#30C8C0"/>
<line x1="430.08" y1="231.60" x2="430.08" y2="250.00" stroke="#30C8C0" stroke-width="0.5" />
<line x1="429.28" y1="231.60" x2="430.88" y2="231.60" stroke="#30C8C0" stroke-width="0.5" />
<line x1="429.28" y1="250.00" x2="430.88" y2="250.00" stroke="#30C8C0" stroke-width="0.5" />
<circle cx="430.08" cy="241.30" r="0.85" fill="#30C8C0"/>
<line x1="444.82" y1="255.20" x2="444.82" y2="273.00" stroke="#30C8C0" stroke-width="0.5" />
<line x1="444.02" y1="255.20" x2="445.62" y2="255.20" stroke="#30C8C0" stroke-width="0.5" />
<line x1="444.02" y1="273.00" x2="445.62" y2="273.00" stroke="#30C8C0" stroke-width="0.5" />
<circle cx="444.82" cy="263.80" r="0.85" fill="#30C8C0"/>
<line x1="459.55" y1="234.40" x2="459.55" y2="251.60" stroke="#30C8C0" stroke-width="0.5" />
<line x1="458.75" y1="234.40" x2="460.35" y2="234.40" stroke="#30C8C0" stroke-width="0.5" />
<line x1="458.75" y1="251.60" x2="460.35" y2="251.60" stroke="#30C8C0" stroke-width="0.5" />
<circle cx="459.55" cy="243.00" r="0.85" fill="#30C8C0"/>
<line x1="474.29" y1="214.00" x2="474.29" y2="239.60" stroke="#30C8C0" stroke-width="0.5" />
<line x1="473.49" y1="214.00" x2="475.09" y2="214.00" stroke="#30C8C0" stroke-width="0.5" />
<line x1="473.49" y1="239.60" x2="475.09" y2="239.60" stroke="#30C8C0" stroke-width="0.5" />
<circle cx="474.29" cy="227.00" r="0.85" fill="#30C8C0"/>
<line x1="489.02" y1="219.20" x2="489.02" y2="238.30" stroke="#30C8C0" stroke-width="0.5" />
<line x1="488.22" y1="219.20" x2="489.82" y2="219.20" stroke="#30C8C0" stroke-width="0.5" />
<line x1="488.22" y1="238.30" x2="489.82" y2="238.30" stroke="#30C8C0" stroke-width="0.5" />
<circle cx="489.02" cy="228.60" r="0.85" fill="#30C8C0"/>
<line x1="503.76" y1="251.60" x2="503.76" y2="268.30" stroke="#30C8C0" stroke-width="0.5" />
<line x1="502.96" y1="251.60" x2="504.56" y2="251.60" stroke="#30C8C0" stroke-width="0.5" />
<line x1="502.96" y1="268.30" x2="504.56" y2="268.30" stroke="#30C8C0" stroke-width="0.5" />
<circle cx="503.76" cy="261.00" r="0.85" fill="#30C8C0"/>
<rect x="362.30" y="168.50" width="150.30" height="162.00" fill="none" stroke="#B0B0B0" stroke-width="0.8"/>
<text x="360.5" y="177.05" font-size="4.6" font-weight="normal" text-anchor="end" fill="#4A4A4A" textLength="6.1" lengthAdjust="spacingAndGlyphs">0.5</text>
<line x1="360.80" y1="175.65" x2="362.30" y2="175.65" stroke="#444" stroke-width="0.5" />
<text x="360.5" y="206.70000000000002" font-size="4.6" font-weight="normal" text-anchor="end" fill="#4A4A4A" textLength="6.1" lengthAdjust="spacingAndGlyphs">0.0</text>
<line x1="360.80" y1="205.30" x2="362.30" y2="205.30" stroke="#444" stroke-width="0.5" />
<text x="360.5" y="236.35000000000002" font-size="4.6" font-weight="normal" text-anchor="end" fill="#4A4A4A" textLength="6.8" lengthAdjust="spacingAndGlyphs">-0.5</text>
<line x1="360.80" y1="234.95" x2="362.30" y2="234.95" stroke="#444" stroke-width="0.5" />
<text x="360.5" y="266.0" font-size="4.6" font-weight="normal" text-anchor="end" fill="#4A4A4A" textLength="6.8" lengthAdjust="spacingAndGlyphs">-1.0</text>
<line x1="360.80" y1="264.60" x2="362.30" y2="264.60" stroke="#444" stroke-width="0.5" />
<text x="360.5" y="295.65" font-size="4.6" font-weight="normal" text-anchor="end" fill="#4A4A4A" textLength="6.8" lengthAdjust="spacingAndGlyphs">-1.5</text>
<line x1="360.80" y1="294.25" x2="362.30" y2="294.25" stroke="#444" stroke-width="0.5" />
<text x="360.5" y="325.29999999999995" font-size="4.6" font-weight="normal" text-anchor="end" fill="#4A4A4A" textLength="6.8" lengthAdjust="spacingAndGlyphs">-2.0</text>
<line x1="360.80" y1="323.90" x2="362.30" y2="323.90" stroke="#444" stroke-width="0.5" />
<line x1="371.14" y1="330.50" x2="371.14" y2="332.00" stroke="#444" stroke-width="0.5" />
<line x1="385.88" y1="330.50" x2="385.88" y2="332.00" stroke="#444" stroke-width="0.5" />
<line x1="400.61" y1="330.50" x2="400.61" y2="332.00" stroke="#444" stroke-width="0.5" />
<line x1="415.35" y1="330.50" x2="415.35" y2="332.00" stroke="#444" stroke-width="0.5" />
<line x1="430.08" y1="330.50" x2="430.08" y2="332.00" stroke="#444" stroke-width="0.5" />
<line x1="444.82" y1="330.50" x2="444.82" y2="332.00" stroke="#444" stroke-width="0.5" />
<line x1="459.55" y1="330.50" x2="459.55" y2="332.00" stroke="#444" stroke-width="0.5" />
<line x1="474.29" y1="330.50" x2="474.29" y2="332.00" stroke="#444" stroke-width="0.5" />
<line x1="489.02" y1="330.50" x2="489.02" y2="332.00" stroke="#444" stroke-width="0.5" />
<line x1="503.76" y1="330.50" x2="503.76" y2="332.00" stroke="#444" stroke-width="0.5" />
<path d="M445.02 181.00L445.02 177.90M445.02 181.00L447.97 180.04M445.02 181.00L446.84 183.51M445.02 181.00L443.20 183.51M445.02 181.00L442.07 180.04" stroke="#5CC0EE" stroke-width="1.5" stroke-linecap="round" fill="none"/>
<path d="M459.75 181.00L459.75 177.90M459.75 181.00L462.70 180.04M459.75 181.00L461.58 183.51M459.75 181.00L457.93 183.51M459.75 181.00L456.80 180.04" stroke="#5CC0EE" stroke-width="1.5" stroke-linecap="round" fill="none"/>
<text x="436.5" y="162.0" font-size="11.2" font-weight="bold" text-anchor="middle" fill="#000" >Accuracy</text>
<rect x="533.40" y="168.50" width="150.40" height="162.00" fill="#FFFFFF" />
<line x1="533.40" y1="190.48" x2="683.80" y2="190.48" stroke="#F0F0F0" stroke-width="0.3" />
<line x1="533.40" y1="220.12" x2="683.80" y2="220.12" stroke="#F0F0F0" stroke-width="0.3" />
<line x1="533.40" y1="249.78" x2="683.80" y2="249.78" stroke="#F0F0F0" stroke-width="0.3" />
<line x1="533.40" y1="279.43" x2="683.80" y2="279.43" stroke="#F0F0F0" stroke-width="0.3" />
<line x1="533.40" y1="309.07" x2="683.80" y2="309.07" stroke="#F0F0F0" stroke-width="0.3" />
<line x1="533.40" y1="175.65" x2="683.80" y2="175.65" stroke="#E4E4E4" stroke-width="0.45" />
<line x1="533.40" y1="205.30" x2="683.80" y2="205.30" stroke="#E4E4E4" stroke-width="0.45" />
<line x1="533.40" y1="234.95" x2="683.80" y2="234.95" stroke="#E4E4E4" stroke-width="0.45" />
<line x1="533.40" y1="264.60" x2="683.80" y2="264.60" stroke="#E4E4E4" stroke-width="0.45" />
<line x1="533.40" y1="294.25" x2="683.80" y2="294.25" stroke="#E4E4E4" stroke-width="0.45" />
<line x1="533.40" y1="323.90" x2="683.80" y2="323.90" stroke="#E4E4E4" stroke-width="0.45" />
<line x1="540.80" y1="168.50" x2="540.80" y2="330.50" stroke="#E4E4E4" stroke-width="0.45" />
<line x1="553.12" y1="168.50" x2="553.12" y2="330.50" stroke="#E4E4E4" stroke-width="0.45" />
<line x1="565.45" y1="168.50" x2="565.45" y2="330.50" stroke="#E4E4E4" stroke-width="0.45" />
<line x1="577.78" y1="168.50" x2="577.78" y2="330.50" stroke="#E4E4E4" stroke-width="0.45" />
<line x1="590.11" y1="168.50" x2="590.11" y2="330.50" stroke="#E4E4E4" stroke-width="0.45" />
<line x1="602.44" y1="168.50" x2="602.44" y2="330.50" stroke="#E4E4E4" stroke-width="0.45" />
<line x1="614.76" y1="168.50" x2="614.76" y2="330.50" stroke="#E4E4E4" stroke-width="0.45" />
<line x1="627.09" y1="168.50" x2="627.09" y2="330.50" stroke="#E4E4E4" stroke-width="0.45" />
<line x1="639.42" y1="168.50" x2="639.42" y2="330.50" stroke="#E4E4E4" stroke-width="0.45" />
<line x1="651.75" y1="168.50" x2="651.75" y2="330.50" stroke="#E4E4E4" stroke-width="0.45" />
<line x1="664.08" y1="168.50" x2="664.08" y2="330.50" stroke="#E4E4E4" stroke-width="0.45" />
<line x1="676.40" y1="168.50" x2="676.40" y2="330.50" stroke="#E4E4E4" stroke-width="0.45" />
<rect x="652.40" y="172.30" width="24.30" height="17.20" fill="#FFFFFF" stroke="#E6E6E6" stroke-width="0.5"/>
<rect x="656.00" y="175.20" width="6.80" height="13.50" fill="#F0F0F0" />
<line x1="656.40" y1="178.30" x2="662.40" y2="178.30" stroke="#F06A64" stroke-width="0.55" />
<circle cx="659.40" cy="178.30" r="0.9" fill="#F06A64"/>
<text x="664.9" y="179.55" font-size="3.5" font-weight="normal" text-anchor="start" fill="#1A1A1A" >Del</text>
<line x1="656.40" y1="185.00" x2="662.40" y2="185.00" stroke="#30C8C0" stroke-width="0.55" />
<circle cx="659.40" cy="185.00" r="0.9" fill="#30C8C0"/>
<text x="664.9" y="186.25" font-size="3.5" font-weight="normal" text-anchor="start" fill="#1A1A1A" >Dup</text>
<line x1="533.40" y1="205.30" x2="683.80" y2="205.30" stroke="#1E1E1E" stroke-width="0.7" />
<polyline points="540.80,209.40 553.12,225.90 565.45,210.00 577.78,256.50 590.11,254.60 602.44,198.30 614.76,235.60 627.09,265.00 639.42,233.80 651.75,231.10 664.08,271.10 676.40,203.60" fill="none" stroke="#F06A64" stroke-width="0.65"/>
<line x1="540.80" y1="202.10" x2="540.80" y2="216.00" stroke="#F06A64" stroke-width="0.5" />
<line x1="540.00" y1="202.10" x2="541.60" y2="202.10" stroke="#F06A64" stroke-width="0.5" />
<line x1="540.00" y1="216.00" x2="541.60" y2="216.00" stroke="#F06A64" stroke-width="0.5" />
<circle cx="540.80" cy="209.40" r="0.85" fill="#F06A64"/>
<line x1="553.12" y1="219.40" x2="553.12" y2="232.50" stroke="#F06A64" stroke-width="0.5" />
<line x1="552.32" y1="219.40" x2="553.92" y2="219.40" stroke="#F06A64" stroke-width="0.5" />
<line x1="552.32" y1="232.50" x2="553.92" y2="232.50" stroke="#F06A64" stroke-width="0.5" />
<circle cx="553.12" cy="225.90" r="0.85" fill="#F06A64"/>
<line x1="565.45" y1="206.30" x2="565.45" y2="213.40" stroke="#F06A64" stroke-width="0.5" />
<line x1="564.65" y1="206.30" x2="566.25" y2="206.30" stroke="#F06A64" stroke-width="0.5" />
<line x1="564.65" y1="213.40" x2="566.25" y2="213.40" stroke="#F06A64" stroke-width="0.5" />
<circle cx="565.45" cy="210.00" r="0.85" fill="#F06A64"/>
<line x1="577.78" y1="252.00" x2="577.78" y2="261.00" stroke="#F06A64" stroke-width="0.5" />
<line x1="576.98" y1="252.00" x2="578.58" y2="252.00" stroke="#F06A64" stroke-width="0.5" />
<line x1="576.98" y1="261.00" x2="578.58" y2="261.00" stroke="#F06A64" stroke-width="0.5" />
<circle cx="577.78" cy="256.50" r="0.85" fill="#F06A64"/>
<line x1="590.11" y1="250.50" x2="590.11" y2="258.50" stroke="#F06A64" stroke-width="0.5" />
<line x1="589.31" y1="250.50" x2="590.91" y2="250.50" stroke="#F06A64" stroke-width="0.5" />
<line x1="589.31" y1="258.50" x2="590.91" y2="258.50" stroke="#F06A64" stroke-width="0.5" />
<circle cx="590.11" cy="254.60" r="0.85" fill="#F06A64"/>
<line x1="602.44" y1="193.20" x2="602.44" y2="202.90" stroke="#F06A64" stroke-width="0.5" />
<line x1="601.64" y1="193.20" x2="603.24" y2="193.20" stroke="#F06A64" stroke-width="0.5" />
<line x1="601.64" y1="202.90" x2="603.24" y2="202.90" stroke="#F06A64" stroke-width="0.5" />
<circle cx="602.44" cy="198.30" r="0.85" fill="#F06A64"/>
<line x1="614.76" y1="228.90" x2="614.76" y2="242.00" stroke="#F06A64" stroke-width="0.5" />
<line x1="613.96" y1="228.90" x2="615.56" y2="228.90" stroke="#F06A64" stroke-width="0.5" />
<line x1="613.96" y1="242.00" x2="615.56" y2="242.00" stroke="#F06A64" stroke-width="0.5" />
<circle cx="614.76" cy="235.60" r="0.85" fill="#F06A64"/>
<line x1="627.09" y1="257.00" x2="627.09" y2="274.60" stroke="#F06A64" stroke-width="0.5" />
<line x1="626.29" y1="257.00" x2="627.89" y2="257.00" stroke="#F06A64" stroke-width="0.5" />
<line x1="626.29" y1="274.60" x2="627.89" y2="274.60" stroke="#F06A64" stroke-width="0.5" />
<circle cx="627.09" cy="265.00" r="0.85" fill="#F06A64"/>
<line x1="639.42" y1="225.50" x2="639.42" y2="242.00" stroke="#F06A64" stroke-width="0.5" />
<line x1="638.62" y1="225.50" x2="640.22" y2="225.50" stroke="#F06A64" stroke-width="0.5" />
<line x1="638.62" y1="242.00" x2="640.22" y2="242.00" stroke="#F06A64" stroke-width="0.5" />
<circle cx="639.42" cy="233.80" r="0.85" fill="#F06A64"/>
<line x1="651.75" y1="223.70" x2="651.75" y2="238.00" stroke="#F06A64" stroke-width="0.5" />
<line x1="650.95" y1="223.70" x2="652.55" y2="223.70" stroke="#F06A64" stroke-width="0.5" />
<line x1="650.95" y1="238.00" x2="652.55" y2="238.00" stroke="#F06A64" stroke-width="0.5" />
<circle cx="651.75" cy="231.10" r="0.85" fill="#F06A64"/>
<line x1="664.08" y1="266.00" x2="664.08" y2="276.00" stroke="#F06A64" stroke-width="0.5" />
<line x1="663.28" y1="266.00" x2="664.88" y2="266.00" stroke="#F06A64" stroke-width="0.5" />
<line x1="663.28" y1="276.00" x2="664.88" y2="276.00" stroke="#F06A64" stroke-width="0.5" />
<circle cx="664.08" cy="271.10" r="0.85" fill="#F06A64"/>
<line x1="676.40" y1="195.80" x2="676.40" y2="212.00" stroke="#F06A64" stroke-width="0.5" />
<line x1="675.60" y1="195.80" x2="677.20" y2="195.80" stroke="#F06A64" stroke-width="0.5" />
<line x1="675.60" y1="212.00" x2="677.20" y2="212.00" stroke="#F06A64" stroke-width="0.5" />
<circle cx="676.40" cy="203.60" r="0.85" fill="#F06A64"/>
<polyline points="540.80,235.60 553.12,237.70 565.45,218.60 577.78,250.60 590.11,254.60 602.44,222.40 614.76,259.40 627.09,297.00 639.42,251.40 651.75,242.10 664.08,271.10 676.40,202.80" fill="none" stroke="#30C8C0" stroke-width="0.65"/>
<line x1="540.80" y1="222.00" x2="540.80" y2="248.70" stroke="#30C8C0" stroke-width="0.5" />
<line x1="540.00" y1="222.00" x2="541.60" y2="222.00" stroke="#30C8C0" stroke-width="0.5" />
<line x1="540.00" y1="248.70" x2="541.60" y2="248.70" stroke="#30C8C0" stroke-width="0.5" />
<circle cx="540.80" cy="235.60" r="0.85" fill="#30C8C0"/>
<line x1="553.12" y1="226.40" x2="553.12" y2="250.00" stroke="#30C8C0" stroke-width="0.5" />
<line x1="552.32" y1="226.40" x2="553.92" y2="226.40" stroke="#30C8C0" stroke-width="0.5" />
<line x1="552.32" y1="250.00" x2="553.92" y2="250.00" stroke="#30C8C0" stroke-width="0.5" />
<circle cx="553.12" cy="237.70" r="0.85" fill="#30C8C0"/>
<line x1="565.45" y1="212.00" x2="565.45" y2="227.20" stroke="#30C8C0" stroke-width="0.5" />
<line x1="564.65" y1="212.00" x2="566.25" y2="212.00" stroke="#30C8C0" stroke-width="0.5" />
<line x1="564.65" y1="227.20" x2="566.25" y2="227.20" stroke="#30C8C0" stroke-width="0.5" />
<circle cx="565.45" cy="218.60" r="0.85" fill="#30C8C0"/>
<line x1="577.78" y1="234.30" x2="577.78" y2="267.10" stroke="#30C8C0" stroke-width="0.5" />
<line x1="576.98" y1="234.30" x2="578.58" y2="234.30" stroke="#30C8C0" stroke-width="0.5" />
<line x1="576.98" y1="267.10" x2="578.58" y2="267.10" stroke="#30C8C0" stroke-width="0.5" />
<circle cx="577.78" cy="250.60" r="0.85" fill="#30C8C0"/>
<line x1="590.11" y1="241.30" x2="590.11" y2="270.00" stroke="#30C8C0" stroke-width="0.5" />
<line x1="589.31" y1="241.30" x2="590.91" y2="241.30" stroke="#30C8C0" stroke-width="0.5" />
<line x1="589.31" y1="270.00" x2="590.91" y2="270.00" stroke="#30C8C0" stroke-width="0.5" />
<circle cx="590.11" cy="254.60" r="0.85" fill="#30C8C0"/>
<line x1="602.44" y1="211.50" x2="602.44" y2="231.70" stroke="#30C8C0" stroke-width="0.5" />
<line x1="601.64" y1="211.50" x2="603.24" y2="211.50" stroke="#30C8C0" stroke-width="0.5" />
<line x1="601.64" y1="231.70" x2="603.24" y2="231.70" stroke="#30C8C0" stroke-width="0.5" />
<circle cx="602.44" cy="222.40" r="0.85" fill="#30C8C0"/>
<line x1="614.76" y1="244.00" x2="614.76" y2="274.60" stroke="#30C8C0" stroke-width="0.5" />
<line x1="613.96" y1="244.00" x2="615.56" y2="244.00" stroke="#30C8C0" stroke-width="0.5" />
<line x1="613.96" y1="274.60" x2="615.56" y2="274.60" stroke="#30C8C0" stroke-width="0.5" />
<circle cx="614.76" cy="259.40" r="0.85" fill="#30C8C0"/>
<line x1="627.09" y1="280.50" x2="627.09" y2="313.40" stroke="#30C8C0" stroke-width="0.5" />
<line x1="626.29" y1="280.50" x2="627.89" y2="280.50" stroke="#30C8C0" stroke-width="0.5" />
<line x1="626.29" y1="313.40" x2="627.89" y2="313.40" stroke="#30C8C0" stroke-width="0.5" />
<circle cx="627.09" cy="297.00" r="0.85" fill="#30C8C0"/>
<line x1="639.42" y1="237.00" x2="639.42" y2="265.70" stroke="#30C8C0" stroke-width="0.5" />
<line x1="638.62" y1="237.00" x2="640.22" y2="237.00" stroke="#30C8C0" stroke-width="0.5" />
<line x1="638.62" y1="265.70" x2="640.22" y2="265.70" stroke="#30C8C0" stroke-width="0.5" />
<circle cx="639.42" cy="251.40" r="0.85" fill="#30C8C0"/>
<line x1="651.75" y1="233.40" x2="651.75" y2="254.70" stroke="#30C8C0" stroke-width="0.5" />
<line x1="650.95" y1="233.40" x2="652.55" y2="233.40" stroke="#30C8C0" stroke-width="0.5" />
<line x1="650.95" y1="254.70" x2="652.55" y2="254.70" stroke="#30C8C0" stroke-width="0.5" />
<circle cx="651.75" cy="242.10" r="0.85" fill="#30C8C0"/>
<line x1="664.08" y1="253.50" x2="664.08" y2="286.40" stroke="#30C8C0" stroke-width="0.5" />
<line x1="663.28" y1="253.50" x2="664.88" y2="253.50" stroke="#30C8C0" stroke-width="0.5" />
<line x1="663.28" y1="286.40" x2="664.88" y2="286.40" stroke="#30C8C0" stroke-width="0.5" />
<circle cx="664.08" cy="271.10" r="0.85" fill="#30C8C0"/>
<line x1="676.40" y1="192.40" x2="676.40" y2="213.30" stroke="#30C8C0" stroke-width="0.5" />
<line x1="675.60" y1="192.40" x2="677.20" y2="192.40" stroke="#30C8C0" stroke-width="0.5" />
<line x1="675.60" y1="213.30" x2="677.20" y2="213.30" stroke="#30C8C0" stroke-width="0.5" />
<circle cx="676.40" cy="202.80" r="0.85" fill="#30C8C0"/>
<rect x="533.40" y="168.50" width="150.40" height="162.00" fill="none" stroke="#B0B0B0" stroke-width="0.8"/>
<text x="531.6" y="177.05" font-size="4.6" font-weight="normal" text-anchor="end" fill="#4A4A4A" textLength="6.1" lengthAdjust="spacingAndGlyphs">0.5</text>
<line x1="531.90" y1="175.65" x2="533.40" y2="175.65" stroke="#444" stroke-width="0.5" />
<text x="531.6" y="206.70000000000002" font-size="4.6" font-weight="normal" text-anchor="end" fill="#4A4A4A" textLength="6.1" lengthAdjust="spacingAndGlyphs">0.0</text>
<line x1="531.90" y1="205.30" x2="533.40" y2="205.30" stroke="#444" stroke-width="0.5" />
<text x="531.6" y="236.35000000000002" font-size="4.6" font-weight="normal" text-anchor="end" fill="#4A4A4A" textLength="6.8" lengthAdjust="spacingAndGlyphs">-0.5</text>
<line x1="531.90" y1="234.95" x2="533.40" y2="234.95" stroke="#444" stroke-width="0.5" />
<text x="531.6" y="266.0" font-size="4.6" font-weight="normal" text-anchor="end" fill="#4A4A4A" textLength="6.8" lengthAdjust="spacingAndGlyphs">-1.0</text>
<line x1="531.90" y1="264.60" x2="533.40" y2="264.60" stroke="#444" stroke-width="0.5" />
<text x="531.6" y="295.65" font-size="4.6" font-weight="normal" text-anchor="end" fill="#4A4A4A" textLength="6.8" lengthAdjust="spacingAndGlyphs">-1.5</text>
<line x1="531.90" y1="294.25" x2="533.40" y2="294.25" stroke="#444" stroke-width="0.5" />
<text x="531.6" y="325.29999999999995" font-size="4.6" font-weight="normal" text-anchor="end" fill="#4A4A4A" textLength="6.8" lengthAdjust="spacingAndGlyphs">-2.0</text>
<line x1="531.90" y1="323.90" x2="533.40" y2="323.90" stroke="#444" stroke-width="0.5" />
<line x1="540.80" y1="330.50" x2="540.80" y2="332.00" stroke="#444" stroke-width="0.5" />
<line x1="553.12" y1="330.50" x2="553.12" y2="332.00" stroke="#444" stroke-width="0.5" />
<line x1="565.45" y1="330.50" x2="565.45" y2="332.00" stroke="#444" stroke-width="0.5" />
<line x1="577.78" y1="330.50" x2="577.78" y2="332.00" stroke="#444" stroke-width="0.5" />
<line x1="590.11" y1="330.50" x2="590.11" y2="332.00" stroke="#444" stroke-width="0.5" />
<line x1="602.44" y1="330.50" x2="602.44" y2="332.00" stroke="#444" stroke-width="0.5" />
<line x1="614.76" y1="330.50" x2="614.76" y2="332.00" stroke="#444" stroke-width="0.5" />
<line x1="627.09" y1="330.50" x2="627.09" y2="332.00" stroke="#444" stroke-width="0.5" />
<line x1="639.42" y1="330.50" x2="639.42" y2="332.00" stroke="#444" stroke-width="0.5" />
<line x1="651.75" y1="330.50" x2="651.75" y2="332.00" stroke="#444" stroke-width="0.5" />
<line x1="664.08" y1="330.50" x2="664.08" y2="332.00" stroke="#444" stroke-width="0.5" />
<line x1="676.40" y1="330.50" x2="676.40" y2="332.00" stroke="#444" stroke-width="0.5" />
<path d="M602.64 181.00L602.64 177.90M602.64 181.00L605.58 180.04M602.64 181.00L604.46 183.51M602.64 181.00L600.81 183.51M602.64 181.00L599.69 180.04" stroke="#5CC0EE" stroke-width="1.5" stroke-linecap="round" fill="none"/>
<text x="614.4" y="162.0" font-size="11.2" font-weight="bold" text-anchor="middle" fill="#000" >Speed</text>
<text x="29.352941176470587" y="338.3" font-size="5.65" font-weight="bold" text-anchor="middle" fill="#000" stroke="#000" stroke-width="0.12">ABF</text>
<text x="44.1078431372549" y="338.3" font-size="5.65" font-weight="bold" text-anchor="middle" fill="#000" stroke="#000" stroke-width="0.12">ATT</text>
<text x="58.86274509803921" y="338.3" font-size="5.65" font-weight="bold" text-anchor="middle" fill="#000" stroke="#000" stroke-width="0.12">WM</text>
<text x="73.61764705882354" y="338.3" font-size="5.65" font-weight="bold" text-anchor="middle" fill="#000" stroke="#000" stroke-width="0.12">FME</text>
<text x="88.37254901960785" y="338.3" font-size="5.65" font-weight="bold" text-anchor="middle" fill="#000" stroke="#000" stroke-width="0.12">SME</text>
<text x="103.12745098039215" y="338.3" font-size="5.65" font-weight="bold" text-anchor="middle" fill="#000" stroke="#000" stroke-width="0.12">NVR</text>
<text x="117.88235294117646" y="338.3" font-size="5.65" font-weight="bold" text-anchor="middle" fill="#000" stroke="#000" stroke-width="0.12">SPA</text>
<text x="132.6372549019608" y="338.3" font-size="5.65" font-weight="bold" text-anchor="middle" fill="#000" stroke="#000" stroke-width="0.12">EID</text>
<text x="147.3921568627451" y="338.3" font-size="5.65" font-weight="bold" text-anchor="middle" fill="#000" stroke="#000" stroke-width="0.12">EDI</text>
<text x="162.14705882352942" y="338.3" font-size="5.65" font-weight="bold" text-anchor="middle" fill="#000" stroke="#000" stroke-width="0.12">ADI</text>
<line x1="23.10" y1="340.70" x2="61.90" y2="340.70" stroke="#000" stroke-width="1.55" />
<text x="24.7" y="347.7" font-size="6.4" font-weight="bold" text-anchor="start" fill="#000" stroke="#000" stroke-width="0.1">Executive</text>
<line x1="68.10" y1="340.70" x2="93.80" y2="340.70" stroke="#000" stroke-width="1.55" />
<text x="65.9" y="347.7" font-size="6.4" font-weight="bold" text-anchor="start" fill="#000" stroke="#000" stroke-width="0.1">Memory</text>
<line x1="97.40" y1="340.70" x2="123.30" y2="340.70" stroke="#000" stroke-width="1.55" />
<text x="96.8" y="347.7" font-size="6.4" font-weight="bold" text-anchor="start" fill="#000" stroke="#000" stroke-width="0.1">Complex</text>
<text x="96.8" y="355.5" font-size="6.4" font-weight="bold" text-anchor="start" fill="#000" stroke="#000" stroke-width="0.1">Cognition</text>
<line x1="128.50" y1="340.70" x2="166.70" y2="340.70" stroke="#000" stroke-width="1.55" />
<text x="138.1" y="347.7" font-size="6.4" font-weight="bold" text-anchor="start" fill="#000" stroke="#000" stroke-width="0.1">Social</text>
<text x="138.1" y="355.5" font-size="6.4" font-weight="bold" text-anchor="start" fill="#000" stroke="#000" stroke-width="0.1">Cognition</text>
<text x="199.7" y="338.3" font-size="5.65" font-weight="bold" text-anchor="middle" fill="#000" stroke="#000" stroke-width="0.12">ABF</text>
<text x="212.3" y="338.3" font-size="5.65" font-weight="bold" text-anchor="middle" fill="#000" stroke="#000" stroke-width="0.12">ATT</text>
<text x="224.05" y="338.3" font-size="5.65" font-weight="bold" text-anchor="middle" fill="#000" stroke="#000" stroke-width="0.12">WM</text>
<text x="236.6" y="338.3" font-size="5.65" font-weight="bold" text-anchor="middle" fill="#000" stroke="#000" stroke-width="0.12">FME</text>
<text x="249.2" y="338.3" font-size="5.65" font-weight="bold" text-anchor="middle" fill="#000" stroke="#000" stroke-width="0.12">SME</text>
<text x="262.75" y="338.3" font-size="5.65" font-weight="bold" text-anchor="middle" fill="#000" stroke="#000" stroke-width="0.12">NVR</text>
<text x="275.55" y="338.3" font-size="5.65" font-weight="bold" text-anchor="middle" fill="#000" stroke="#000" stroke-width="0.12">SPA</text>
<text x="287.8" y="338.3" font-size="5.65" font-weight="bold" text-anchor="middle" fill="#000" stroke="#000" stroke-width="0.12">EID</text>
<text x="299.5" y="338.3" font-size="5.65" font-weight="bold" text-anchor="middle" fill="#000" stroke="#000" stroke-width="0.12">EDI</text>
<text x="310.4" y="338.3" font-size="5.65" font-weight="bold" text-anchor="middle" fill="#000" stroke="#000" stroke-width="0.12">ADI</text>
<text x="322.55" y="338.3" font-size="5.65" font-weight="bold" text-anchor="middle" fill="#000" stroke="#000" stroke-width="0.12">SM</text>
<text x="335.65" y="338.3" font-size="5.65" font-weight="bold" text-anchor="middle" fill="#000" stroke="#000" stroke-width="0.12">MOT</text>
<line x1="191.80" y1="340.70" x2="230.30" y2="340.70" stroke="#000" stroke-width="1.55" />
<text x="193.9" y="347.7" font-size="6.4" font-weight="bold" text-anchor="start" fill="#000" stroke="#000" stroke-width="0.1">Executive</text>
<line x1="234.00" y1="340.70" x2="255.10" y2="340.70" stroke="#000" stroke-width="1.55" />
<text x="230.9" y="347.7" font-size="6.4" font-weight="bold" text-anchor="start" fill="#000" stroke="#000" stroke-width="0.1">Memory</text>
<line x1="258.30" y1="340.70" x2="278.70" y2="340.70" stroke="#000" stroke-width="1.55" />
<text x="257.0" y="347.7" font-size="6.4" font-weight="bold" text-anchor="start" fill="#000" stroke="#000" stroke-width="0.1">Complex</text>
<text x="257.0" y="355.5" font-size="6.4" font-weight="bold" text-anchor="start" fill="#000" stroke="#000" stroke-width="0.1">Cognition</text>
<line x1="284.20" y1="340.70" x2="315.20" y2="340.70" stroke="#000" stroke-width="1.55" />
<text x="288.1" y="347.7" font-size="6.4" font-weight="bold" text-anchor="start" fill="#000" stroke="#000" stroke-width="0.1">Social</text>
<text x="288.1" y="355.5" font-size="6.4" font-weight="bold" text-anchor="start" fill="#000" stroke="#000" stroke-width="0.1">Cognition</text>
<line x1="319.60" y1="340.70" x2="340.10" y2="340.70" stroke="#000" stroke-width="1.55" />
<text x="320.7" y="347.7" font-size="6.4" font-weight="bold" text-anchor="start" fill="#000" stroke="#000" stroke-width="0.1">Psymot</text>
<text x="320.7" y="355.5" font-size="6.4" font-weight="bold" text-anchor="start" fill="#000" stroke="#000" stroke-width="0.1">Speed</text>
<text x="371.1411764705882" y="338.3" font-size="5.65" font-weight="bold" text-anchor="middle" fill="#000" stroke="#000" stroke-width="0.12">ABF</text>
<text x="385.8764705882353" y="338.3" font-size="5.65" font-weight="bold" text-anchor="middle" fill="#000" stroke="#000" stroke-width="0.12">ATT</text>
<text x="400.61176470588236" y="338.3" font-size="5.65" font-weight="bold" text-anchor="middle" fill="#000" stroke="#000" stroke-width="0.12">WM</text>
<text x="415.34705882352944" y="338.3" font-size="5.65" font-weight="bold" text-anchor="middle" fill="#000" stroke="#000" stroke-width="0.12">FME</text>
<text x="430.08235294117645" y="338.3" font-size="5.65" font-weight="bold" text-anchor="middle" fill="#000" stroke="#000" stroke-width="0.12">SME</text>
<text x="444.8176470588235" y="338.3" font-size="5.65" font-weight="bold" text-anchor="middle" fill="#000" stroke="#000" stroke-width="0.12">NVR</text>
<text x="459.5529411764706" y="338.3" font-size="5.65" font-weight="bold" text-anchor="middle" fill="#000" stroke="#000" stroke-width="0.12">SPA</text>
<text x="474.28823529411767" y="338.3" font-size="5.65" font-weight="bold" text-anchor="middle" fill="#000" stroke="#000" stroke-width="0.12">EID</text>
<text x="489.0235294117647" y="338.3" font-size="5.65" font-weight="bold" text-anchor="middle" fill="#000" stroke="#000" stroke-width="0.12">EDI</text>
<text x="503.75882352941176" y="338.3" font-size="5.65" font-weight="bold" text-anchor="middle" fill="#000" stroke="#000" stroke-width="0.12">ADI</text>
<line x1="365.90" y1="340.70" x2="404.60" y2="340.70" stroke="#000" stroke-width="1.55" />
<text x="367.2" y="347.7" font-size="6.4" font-weight="bold" text-anchor="start" fill="#000" stroke="#000" stroke-width="0.1">Executive</text>
<line x1="411.10" y1="340.70" x2="436.30" y2="340.70" stroke="#000" stroke-width="1.55" />
<text x="408.6" y="347.7" font-size="6.4" font-weight="bold" text-anchor="start" fill="#000" stroke="#000" stroke-width="0.1">Memory</text>
<line x1="440.50" y1="340.70" x2="466.00" y2="340.70" stroke="#000" stroke-width="1.55" />
<text x="438.9" y="347.7" font-size="6.4" font-weight="bold" text-anchor="start" fill="#000" stroke="#000" stroke-width="0.1">Complex</text>
<text x="438.9" y="355.5" font-size="6.4" font-weight="bold" text-anchor="start" fill="#000" stroke="#000" stroke-width="0.1">Cognition</text>
<line x1="470.90" y1="340.70" x2="509.40" y2="340.70" stroke="#000" stroke-width="1.55" />
<text x="480.9" y="347.7" font-size="6.4" font-weight="bold" text-anchor="start" fill="#000" stroke="#000" stroke-width="0.1">Social</text>
<text x="480.9" y="355.5" font-size="6.4" font-weight="bold" text-anchor="start" fill="#000" stroke="#000" stroke-width="0.1">Cognition</text>
<text x="542.35" y="338.3" font-size="5.65" font-weight="bold" text-anchor="middle" fill="#000" stroke="#000" stroke-width="0.12">ABF</text>
<text x="554.85" y="338.3" font-size="5.65" font-weight="bold" text-anchor="middle" fill="#000" stroke="#000" stroke-width="0.12">ATT</text>
<text x="566.85" y="338.3" font-size="5.65" font-weight="bold" text-anchor="middle" fill="#000" stroke="#000" stroke-width="0.12">WM</text>
<text x="578.95" y="338.3" font-size="5.65" font-weight="bold" text-anchor="middle" fill="#000" stroke="#000" stroke-width="0.12">FME</text>
<text x="592.0" y="338.3" font-size="5.65" font-weight="bold" text-anchor="middle" fill="#000" stroke="#000" stroke-width="0.12">SME</text>
<text x="605.7" y="338.3" font-size="5.65" font-weight="bold" text-anchor="middle" fill="#000" stroke="#000" stroke-width="0.12">NVR</text>
<text x="618.45" y="338.3" font-size="5.65" font-weight="bold" text-anchor="middle" fill="#000" stroke="#000" stroke-width="0.12">SPA</text>
<text x="630.7" y="338.3" font-size="5.65" font-weight="bold" text-anchor="middle" fill="#000" stroke="#000" stroke-width="0.12">EID</text>
<text x="641.9" y="338.3" font-size="5.65" font-weight="bold" text-anchor="middle" fill="#000" stroke="#000" stroke-width="0.12">EDI</text>
<text x="653.35" y="338.3" font-size="5.65" font-weight="bold" text-anchor="middle" fill="#000" stroke="#000" stroke-width="0.12">ADI</text>
<text x="665.25" y="338.3" font-size="5.65" font-weight="bold" text-anchor="middle" fill="#000" stroke="#000" stroke-width="0.12">SM</text>
<text x="677.8" y="338.3" font-size="5.65" font-weight="bold" text-anchor="middle" fill="#000" stroke="#000" stroke-width="0.12">MOT</text>
<line x1="533.90" y1="340.70" x2="572.80" y2="340.70" stroke="#000" stroke-width="1.55" />
<text x="536.8" y="347.7" font-size="6.4" font-weight="bold" text-anchor="start" fill="#000" stroke="#000" stroke-width="0.1">Executive</text>
<line x1="576.90" y1="340.70" x2="598.00" y2="340.70" stroke="#000" stroke-width="1.55" />
<text x="573.1" y="347.7" font-size="6.4" font-weight="bold" text-anchor="start" fill="#000" stroke="#000" stroke-width="0.1">Memory</text>
<line x1="600.90" y1="340.70" x2="621.90" y2="340.70" stroke="#000" stroke-width="1.55" />
<text x="599.6" y="347.7" font-size="6.4" font-weight="bold" text-anchor="start" fill="#000" stroke="#000" stroke-width="0.1">Complex</text>
<text x="599.6" y="355.5" font-size="6.4" font-weight="bold" text-anchor="start" fill="#000" stroke="#000" stroke-width="0.1">Cognition</text>
<line x1="627.20" y1="340.70" x2="658.10" y2="340.70" stroke="#000" stroke-width="1.55" />
<text x="630.7" y="347.7" font-size="6.4" font-weight="bold" text-anchor="start" fill="#000" stroke="#000" stroke-width="0.1">Social</text>
<text x="630.7" y="355.5" font-size="6.4" font-weight="bold" text-anchor="start" fill="#000" stroke="#000" stroke-width="0.1">Cognition</text>
<line x1="662.00" y1="340.70" x2="682.80" y2="340.70" stroke="#000" stroke-width="1.55" />
<text x="662.0" y="347.7" font-size="6.4" font-weight="bold" text-anchor="start" fill="#000" stroke="#000" stroke-width="0.1">Psymot</text>
<text x="662.0" y="355.5" font-size="6.4" font-weight="bold" text-anchor="start" fill="#000" stroke="#000" stroke-width="0.1">Speed</text>
<line x1="351.60" y1="249.60" x2="351.60" y2="251.60" stroke="#999" stroke-width="0.4" />
<line x1="522.40" y1="249.30" x2="522.40" y2="251.90" stroke="#777" stroke-width="0.5" />
<text x="0" y="0" font-size="11.8" font-weight="bold" text-anchor="middle" fill="#000" transform="translate(8.6 255) rotate(-90)">Zscore</text>
<text x="156.6" y="377.8" font-size="23.0" font-weight="normal" text-anchor="start" fill="#000" letter-spacing="0.6" stroke="#000" stroke-width="0.25">22q</text>
<text x="486.6" y="378.0" font-size="23.0" font-weight="normal" text-anchor="start" fill="#000" letter-spacing="0.05" stroke="#000" stroke-width="0.25">16p</text>
</svg>
</body></html>
